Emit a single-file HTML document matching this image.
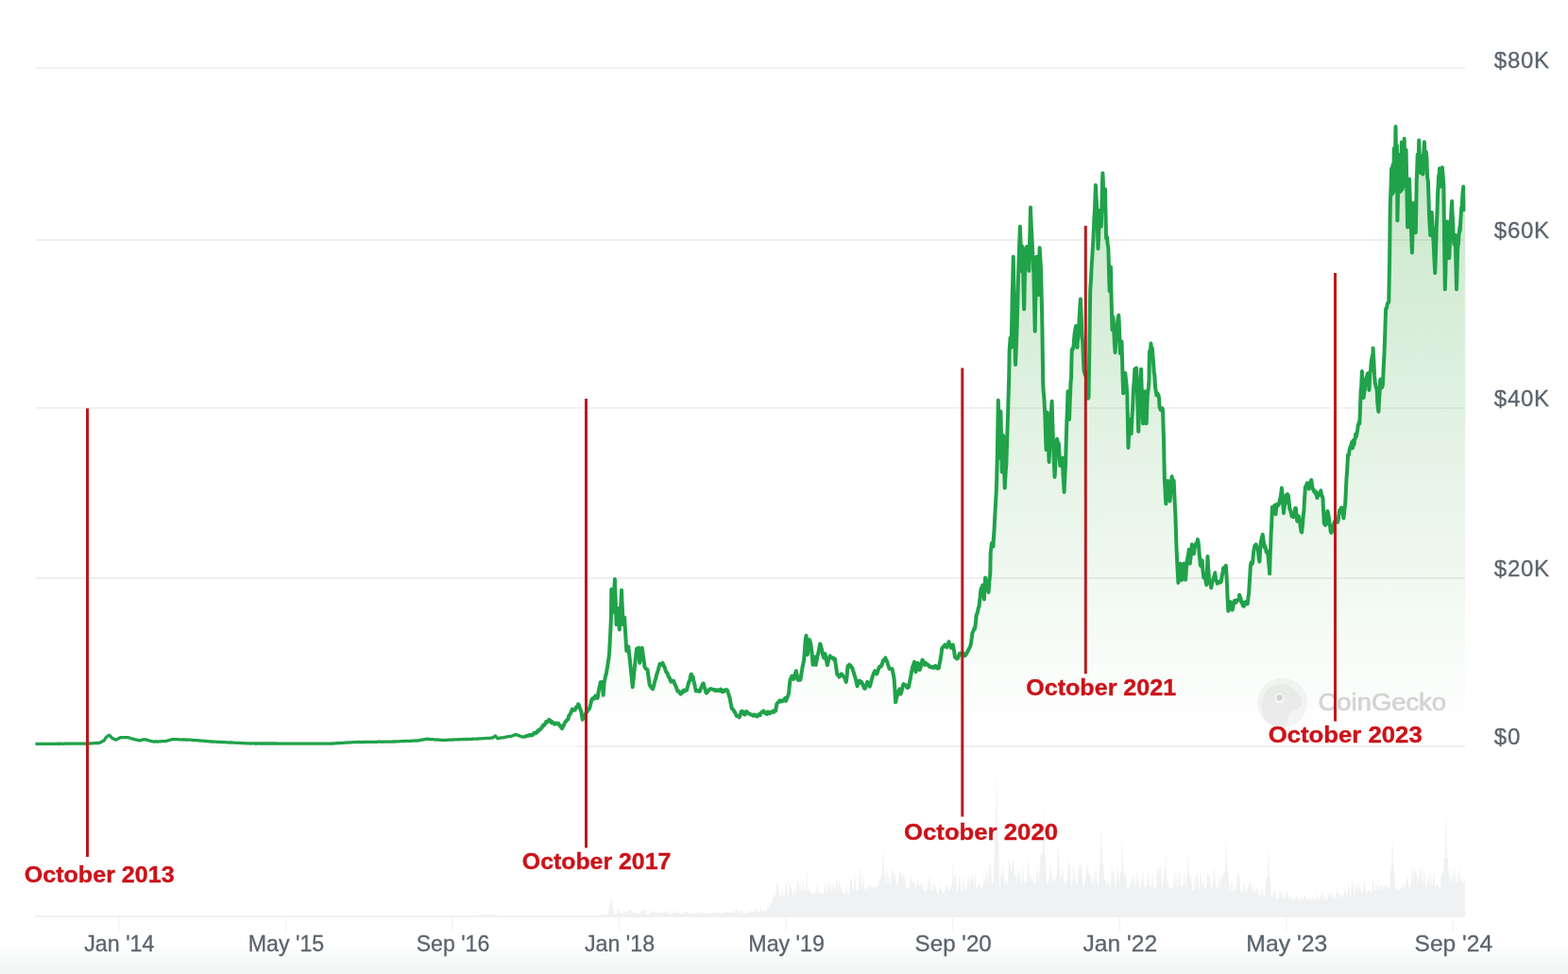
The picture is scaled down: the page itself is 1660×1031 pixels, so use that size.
<!DOCTYPE html>
<html lang="en">
<head>
<meta charset="utf-8">
<title>Bitcoin price chart</title>
<style>
html,body{margin:0;padding:0;background:#fff;}
body{width:1660px;height:1031px;overflow:hidden;position:relative;font-family:"Liberation Sans",Arial,Helvetica,sans-serif;}
svg{position:absolute;left:0;top:0;display:block;}
.grid line{stroke:#efefef;stroke-width:1.8;}
.ticks line{stroke:#f3f4f5;stroke-width:1.4;}
.axis text{font-family:"Liberation Sans",Arial,Helvetica,sans-serif;font-size:23.8px;fill:#5c646e;stroke:#5c646e;stroke-width:0.3px;}
.axis text.yl{font-size:24px;letter-spacing:0.75px;}
.red line{stroke:#b91a1e;stroke-width:3;}
.red text{font-family:"Liberation Sans",Arial,Helvetica,sans-serif;font-weight:700;font-size:23.5px;fill:#cb1219;stroke:#cb1219;stroke-width:0.35px;}
.wm text{font-family:"Liberation Sans",Arial,Helvetica,sans-serif;font-size:26.5px;fill:#d5d5d5;stroke:#d5d5d5;stroke-width:0.7px;}
</style>
</head>
<body>
<svg width="1660" height="1031" viewBox="0 0 1660 1031">
<defs>
<clipPath id="plot"><rect x="36" y="60" width="1515.4" height="740"/></clipPath>
<linearGradient id="gfill" x1="0" y1="72" x2="0" y2="778" gradientUnits="userSpaceOnUse">
<stop offset="0" stop-color="#30a234" stop-opacity="0.30"/>
<stop offset="1" stop-color="#30a234" stop-opacity="0"/>
</linearGradient>
<linearGradient id="gbot" x1="0" y1="1000" x2="0" y2="1031" gradientUnits="userSpaceOnUse">
<stop offset="0" stop-color="#ffffff"/>
<stop offset="0.3" stop-color="#f9fafa"/>
<stop offset="1" stop-color="#f3f4f4"/>
</linearGradient>
</defs>
<rect x="0" y="0" width="1660" height="1031" fill="#ffffff"/>
<rect x="0" y="1000" width="1660" height="31" fill="url(#gbot)"/>
<g class="grid"><line x1="38" x2="1551" y1="71.8" y2="71.8"/><line x1="38" x2="1551" y1="254" y2="254"/><line x1="38" x2="1551" y1="431.8" y2="431.8"/><line x1="38" x2="1551" y1="612" y2="612"/><line x1="38" x2="610" y1="790" y2="790" style="stroke:#f7f7f7"/><line x1="610" x2="1551" y1="790" y2="790"/><line x1="37" x2="1551" y1="970" y2="970" style="stroke:#f0f0f1"/></g>
<g class="ticks"><line x1="125.9" x2="125.9" y1="970" y2="986"/><line x1="302.5" x2="302.5" y1="970" y2="986"/><line x1="479.0" x2="479.0" y1="970" y2="986"/><line x1="655.6" x2="655.6" y1="970" y2="986"/><line x1="832.1" x2="832.1" y1="970" y2="986"/><line x1="1008.7" x2="1008.7" y1="970" y2="986"/><line x1="1185.3" x2="1185.3" y1="970" y2="986"/><line x1="1361.8" x2="1361.8" y1="970" y2="986"/><line x1="1538.4" x2="1538.4" y1="970" y2="986"/></g>
<path d="M495,970 L495,970.0 L496,969.8 L497,969.1 L498,969.4 L499,968.6 L500,968.7 L501,969.0 L502,968.3 L503,969.0 L504,968.5 L505,969.0 L506,969.0 L507,968.5 L508,966.9 L509,969.0 L510,968.9 L511,967.9 L512,966.2 L513,968.0 L514,968.6 L515,966.0 L516,969.0 L517,966.7 L518,968.8 L519,969.0 L520,969.0 L521,968.8 L522,967.0 L523,968.9 L524,968.0 L525,967.8 L526,968.6 L527,968.1 L528,969.0 L529,969.2 L530,969.5 L531,969.4 L532,970.0 L533,970.0 L534,970.0 L535,970.0 L536,970.0 L537,970.0 L538,970.0 L539,970.0 L540,970.0 L541,970.0 L542,970.0 L543,970.0 L544,970.0 L545,970.0 L546,970.0 L547,970.0 L548,970.0 L549,970.0 L550,970.0 L551,970.0 L552,970.0 L553,970.0 L554,970.0 L555,970.0 L556,970.0 L557,970.0 L558,970.0 L559,970.0 L560,970.0 L561,970.0 L562,970.0 L563,970.0 L564,970.0 L565,970.0 L566,970.0 L567,970.0 L568,970.0 L569,970.0 L570,970.0 L571,970.0 L572,970.0 L573,970.0 L574,970.0 L575,970.0 L576,970.0 L577,970.0 L578,970.0 L579,970.0 L580,970.0 L581,970.0 L582,970.0 L583,970.0 L584,970.0 L585,970.0 L586,970.0 L587,970.0 L588,970.0 L589,970.0 L590,970.0 L591,970.0 L592,970.0 L593,970.0 L594,970.0 L595,970.0 L596,970.0 L597,970.0 L598,970.0 L599,970.0 L600,970.0 L601,970.0 L602,970.0 L603,970.0 L604,970.0 L605,970.0 L606,970.0 L607,970.0 L608,970.0 L609,970.0 L610,970.0 L611,970.0 L612,970.0 L613,970.0 L614,970.0 L615,970.0 L616,970.0 L617,970.0 L618,970.0 L619,970.0 L620,970.0 L621,970.0 L622,970.0 L623,970.0 L624,970.0 L625,970.0 L626,970.0 L627,970.0 L628,970.0 L629,970.0 L630,970.0 L631,970.0 L632,970.0 L633,970.0 L634,970.0 L635,970.0 L636,970.0 L637,968.7 L638,966.7 L639,968.1 L640,967.4 L641,968.0 L642,967.9 L643,967.4 L644,967.6 L645,957.9 L646,957.9 L647,948.0 L648,957.9 L649,957.9 L650,967.7 L651,966.2 L652,967.7 L653,966.3 L654,962.2 L655,963.6 L656,965.1 L657,967.3 L658,967.0 L659,967.4 L660,964.5 L661,966.2 L662,964.4 L663,967.0 L664,967.2 L665,964.2 L666,962.5 L667,963.8 L668,964.2 L669,964.2 L670,964.8 L671,967.1 L672,966.1 L673,966.8 L674,967.3 L675,967.3 L676,967.0 L677,967.1 L678,965.2 L679,963.1 L680,966.5 L681,963.3 L682,962.9 L683,963.2 L684,966.9 L685,967.2 L686,967.2 L687,967.3 L688,967.2 L689,965.8 L690,963.8 L691,964.4 L692,966.5 L693,965.7 L694,964.7 L695,967.4 L696,965.7 L697,963.9 L698,964.9 L699,965.2 L700,966.6 L701,967.4 L702,964.9 L703,967.1 L704,964.9 L705,963.5 L706,967.0 L707,967.0 L708,963.8 L709,965.5 L710,967.5 L711,967.5 L712,967.5 L713,964.3 L714,965.0 L715,967.5 L716,964.9 L717,963.7 L718,966.0 L719,967.2 L720,966.6 L721,967.6 L722,967.6 L723,963.8 L724,966.0 L725,966.6 L726,964.1 L727,966.9 L728,964.5 L729,964.8 L730,967.4 L731,967.3 L732,967.2 L733,967.3 L734,966.2 L735,967.2 L736,966.8 L737,967.4 L738,964.0 L739,967.0 L740,966.7 L741,966.1 L742,964.0 L743,966.7 L744,963.9 L745,966.4 L746,966.3 L747,966.3 L748,967.3 L749,966.6 L750,967.2 L751,967.3 L752,964.6 L753,967.2 L754,966.4 L755,965.1 L756,966.0 L757,966.8 L758,966.2 L759,966.0 L760,964.6 L761,967.1 L762,965.9 L763,966.9 L764,966.9 L765,964.6 L766,966.1 L767,965.9 L768,964.7 L769,963.4 L770,966.3 L771,965.5 L772,966.0 L773,966.0 L774,965.0 L775,966.2 L776,965.9 L777,966.1 L778,963.0 L779,964.9 L780,963.5 L781,962.9 L782,966.7 L783,965.6 L784,962.8 L785,963.7 L786,966.8 L787,966.8 L788,966.1 L789,966.9 L790,966.7 L791,966.8 L792,964.9 L793,964.1 L794,963.1 L795,966.7 L796,964.5 L797,964.9 L798,966.7 L799,963.1 L800,962.3 L801,966.4 L802,961.5 L803,965.4 L804,964.7 L805,959.7 L806,961.2 L807,965.2 L808,964.0 L809,963.2 L810,964.0 L811,964.2 L812,963.6 L813,958.0 L814,960.9 L815,956.0 L816,955.4 L817,956.0 L818,952.9 L819,946.4 L820,946.6 L821,950.8 L822,931.9 L823,939.0 L824,932.0 L825,950.1 L826,949.0 L827,949.9 L828,938.2 L829,948.5 L830,949.3 L831,946.3 L832,932.5 L833,935.8 L834,947.8 L835,948.4 L836,931.2 L837,942.3 L838,938.7 L839,948.0 L840,948.0 L841,938.4 L842,944.4 L843,947.5 L844,928.5 L845,939.2 L846,933.6 L847,946.9 L848,931.0 L849,946.6 L850,930.3 L851,942.6 L852,942.5 L853,940.4 L854,920.0 L855,942.5 L856,942.5 L857,941.0 L858,945.5 L859,946.3 L860,946.1 L861,946.5 L862,945.8 L863,944.8 L864,944.9 L865,934.3 L866,945.0 L867,941.6 L868,946.0 L869,944.3 L870,946.5 L871,945.4 L872,946.5 L873,935.2 L874,940.5 L875,945.9 L876,942.1 L877,927.2 L878,946.3 L879,932.1 L880,943.0 L881,941.7 L882,931.5 L883,943.6 L884,941.5 L885,936.7 L886,925.0 L887,944.4 L888,931.5 L889,936.1 L890,938.2 L891,943.4 L892,944.3 L893,946.5 L894,946.2 L895,946.4 L896,934.9 L897,945.4 L898,946.1 L899,946.4 L900,931.2 L901,929.6 L902,936.6 L903,942.5 L904,942.5 L905,920.0 L906,940.8 L907,942.5 L908,940.6 L909,943.1 L910,921.6 L911,920.7 L912,937.1 L913,942.3 L914,919.7 L915,941.1 L916,940.1 L917,942.5 L918,939.1 L919,936.9 L920,936.0 L921,940.8 L922,935.3 L923,941.1 L924,939.4 L925,940.5 L926,936.7 L927,940.2 L928,940.0 L929,937.6 L930,938.3 L931,930.7 L932,932.6 L933,924.5 L934,928.4 L935,898.0 L936,918.6 L937,930.4 L938,937.5 L939,913.0 L940,939.6 L941,926.5 L942,929.7 L943,940.1 L944,921.8 L945,919.1 L946,930.6 L947,926.7 L948,923.4 L949,940.1 L950,934.1 L951,934.7 L952,922.8 L953,924.3 L954,923.4 L955,932.7 L956,920.5 L957,929.7 L958,929.4 L959,939.9 L960,941.0 L961,940.9 L962,938.7 L963,941.3 L964,925.0 L965,935.0 L966,933.3 L967,933.6 L968,932.1 L969,937.6 L970,942.7 L971,928.7 L972,930.8 L973,938.1 L974,937.6 L975,934.5 L976,943.6 L977,932.6 L978,942.9 L979,944.1 L980,943.2 L981,934.0 L982,944.0 L983,934.2 L984,925.6 L985,940.9 L986,942.9 L987,941.6 L988,937.2 L989,935.0 L990,939.4 L991,938.6 L992,945.8 L993,945.6 L994,944.8 L995,935.5 L996,944.3 L997,939.9 L998,945.6 L999,945.5 L1000,944.4 L1001,937.0 L1002,936.3 L1003,936.7 L1004,943.9 L1005,940.4 L1006,941.3 L1007,935.9 L1008,935.9 L1009,908.0 L1010,935.9 L1011,924.5 L1012,926.3 L1013,944.8 L1014,940.9 L1015,930.6 L1016,924.2 L1017,940.8 L1018,943.4 L1019,943.8 L1020,924.7 L1021,943.5 L1022,937.1 L1023,943.5 L1024,937.9 L1025,921.8 L1026,942.9 L1027,927.1 L1028,937.1 L1029,923.1 L1030,930.5 L1031,941.1 L1032,921.2 L1033,936.2 L1034,941.5 L1035,941.2 L1036,935.3 L1037,936.0 L1038,938.6 L1039,940.0 L1040,937.4 L1041,937.6 L1042,919.7 L1043,939.5 L1044,923.3 L1045,918.4 L1046,938.6 L1047,912.4 L1048,923.5 L1049,913.0 L1050,935.9 L1051,934.3 L1052,933.8 L1053,880.9 L1054,880.9 L1055,808.0 L1056,880.9 L1057,880.9 L1058,937.6 L1059,937.4 L1060,916.1 L1061,935.5 L1062,909.9 L1063,936.0 L1064,935.7 L1065,930.1 L1066,936.5 L1067,933.7 L1068,908.3 L1069,912.8 L1070,917.0 L1071,925.5 L1072,910.9 L1073,909.1 L1074,928.5 L1075,921.5 L1076,936.9 L1077,920.8 L1078,931.3 L1079,919.7 L1080,924.6 L1081,934.7 L1082,936.7 L1083,909.6 L1084,936.3 L1085,930.5 L1086,933.5 L1087,934.3 L1088,920.0 L1089,906.1 L1090,934.7 L1091,923.7 L1092,934.0 L1093,927.4 L1094,932.1 L1095,935.6 L1096,935.6 L1097,935.1 L1098,910.3 L1099,929.2 L1100,934.9 L1101,910.3 L1102,904.4 L1103,904.0 L1104,904.0 L1105,850.0 L1106,904.0 L1107,904.0 L1108,936.1 L1109,934.9 L1110,934.7 L1111,927.3 L1112,912.4 L1113,919.9 L1114,932.0 L1115,932.0 L1116,929.0 L1117,932.9 L1118,927.1 L1119,927.1 L1120,892.0 L1121,908.1 L1122,927.1 L1123,929.9 L1124,925.7 L1125,914.8 L1126,935.7 L1127,935.1 L1128,935.4 L1129,932.9 L1130,931.8 L1131,909.9 L1132,916.1 L1133,914.8 L1134,937.0 L1135,937.0 L1136,923.1 L1137,913.9 L1138,931.4 L1139,928.0 L1140,937.2 L1141,933.5 L1142,912.5 L1143,918.1 L1144,916.6 L1145,910.0 L1146,936.0 L1147,937.2 L1148,937.0 L1149,930.6 L1150,925.1 L1151,912.4 L1152,923.6 L1153,926.7 L1154,922.0 L1155,932.8 L1156,930.2 L1157,938.0 L1158,921.6 L1159,937.0 L1160,914.8 L1161,927.5 L1162,936.3 L1163,938.1 L1164,913.9 L1165,913.9 L1166,868.0 L1167,913.9 L1168,913.9 L1169,932.2 L1170,930.5 L1171,935.5 L1172,938.0 L1173,930.2 L1174,939.2 L1175,937.3 L1176,934.4 L1177,914.7 L1178,929.2 L1179,919.0 L1180,934.4 L1181,938.6 L1182,938.5 L1183,915.4 L1184,927.6 L1185,938.0 L1186,922.7 L1187,922.7 L1188,884.0 L1189,922.7 L1190,922.7 L1191,929.6 L1192,918.4 L1193,939.5 L1194,940.6 L1195,938.3 L1196,936.9 L1197,929.7 L1198,940.1 L1199,925.3 L1200,927.8 L1201,935.3 L1202,940.2 L1203,917.1 L1204,939.0 L1205,924.5 L1206,940.0 L1207,940.1 L1208,927.0 L1209,939.3 L1210,918.0 L1211,935.5 L1212,940.4 L1213,940.1 L1214,937.3 L1215,930.6 L1216,918.2 L1217,940.6 L1218,937.7 L1219,940.1 L1220,916.8 L1221,940.7 L1222,941.0 L1223,940.9 L1224,937.7 L1225,920.8 L1226,921.5 L1227,928.1 L1228,915.5 L1229,919.1 L1230,938.8 L1231,940.4 L1232,918.9 L1233,927.6 L1234,900.0 L1235,930.6 L1236,931.5 L1237,938.1 L1238,938.7 L1239,940.5 L1240,941.0 L1241,939.4 L1242,938.4 L1243,917.8 L1244,940.7 L1245,917.4 L1246,940.2 L1247,938.4 L1248,924.4 L1249,924.4 L1250,937.0 L1251,941.0 L1252,936.1 L1253,938.2 L1254,919.9 L1255,940.5 L1256,932.6 L1257,921.1 L1258,902.0 L1259,932.6 L1260,925.2 L1261,927.2 L1262,941.5 L1263,941.5 L1264,941.5 L1265,920.3 L1266,940.4 L1267,928.2 L1268,921.5 L1269,939.4 L1270,940.3 L1271,918.6 L1272,933.0 L1273,940.6 L1274,929.7 L1275,940.0 L1276,940.5 L1277,942.1 L1278,928.3 L1279,921.0 L1280,932.8 L1281,919.7 L1282,942.3 L1283,941.3 L1284,937.4 L1285,919.2 L1286,919.4 L1287,939.3 L1288,941.3 L1289,938.6 L1290,937.2 L1291,920.9 L1292,942.1 L1293,926.9 L1294,929.6 L1295,926.1 L1296,922.7 L1297,922.7 L1298,884.0 L1299,922.7 L1300,922.7 L1301,928.3 L1302,943.2 L1303,942.7 L1304,930.3 L1305,942.5 L1306,943.7 L1307,943.9 L1308,937.6 L1309,942.2 L1310,921.9 L1311,926.8 L1312,922.2 L1313,943.5 L1314,944.8 L1315,944.9 L1316,940.3 L1317,934.9 L1318,941.7 L1319,944.6 L1320,942.6 L1321,938.4 L1322,937.2 L1323,935.1 L1324,932.0 L1325,938.1 L1326,946.3 L1327,933.0 L1328,945.4 L1329,941.3 L1330,944.8 L1331,937.7 L1332,947.1 L1333,947.2 L1334,947.5 L1335,948.4 L1336,936.3 L1337,944.5 L1338,948.3 L1339,948.0 L1340,935.6 L1341,929.3 L1342,929.3 L1343,896.0 L1344,929.3 L1345,929.3 L1346,951.9 L1347,949.6 L1348,943.9 L1349,943.5 L1350,941.8 L1351,952.2 L1352,951.4 L1353,952.1 L1354,952.0 L1355,940.5 L1356,948.5 L1357,941.8 L1358,951.0 L1359,943.4 L1360,950.4 L1361,951.9 L1362,945.5 L1363,941.7 L1364,952.5 L1365,948.7 L1366,948.4 L1367,952.3 L1368,951.4 L1369,952.6 L1370,952.4 L1371,952.2 L1372,949.0 L1373,948.2 L1374,952.6 L1375,953.0 L1376,952.0 L1377,948.0 L1378,952.8 L1379,952.2 L1380,952.8 L1381,946.0 L1382,950.1 L1383,953.2 L1384,953.2 L1385,951.8 L1386,950.2 L1387,949.0 L1388,953.3 L1389,953.2 L1390,948.3 L1391,951.9 L1392,952.8 L1393,952.7 L1394,943.3 L1395,952.7 L1396,950.4 L1397,952.5 L1398,952.0 L1399,945.6 L1400,942.6 L1401,952.4 L1402,953.1 L1403,947.3 L1404,952.7 L1405,952.9 L1406,942.7 L1407,950.7 L1408,944.0 L1409,950.4 L1410,941.8 L1411,949.4 L1412,951.5 L1413,951.6 L1414,947.5 L1415,945.8 L1416,938.9 L1417,950.9 L1418,945.4 L1419,948.9 L1420,946.9 L1421,950.1 L1422,949.2 L1423,946.1 L1424,935.9 L1425,949.6 L1426,946.1 L1427,938.8 L1428,933.3 L1429,948.7 L1430,948.8 L1431,933.2 L1432,931.7 L1433,944.9 L1434,948.4 L1435,932.7 L1436,945.8 L1437,932.9 L1438,941.2 L1439,935.2 L1440,947.2 L1441,936.0 L1442,946.5 L1443,944.4 L1444,933.2 L1445,933.5 L1446,946.1 L1447,945.7 L1448,943.6 L1449,941.3 L1450,943.5 L1451,945.6 L1452,944.7 L1453,935.1 L1454,928.5 L1455,945.2 L1456,939.0 L1457,933.1 L1458,944.8 L1459,929.6 L1460,944.3 L1461,937.1 L1462,938.3 L1463,936.1 L1464,942.5 L1465,940.7 L1466,937.0 L1467,940.4 L1468,934.6 L1469,939.8 L1470,939.8 L1471,943.5 L1472,921.0 L1473,921.0 L1474,881.0 L1475,921.0 L1476,921.0 L1477,938.7 L1478,942.4 L1479,938.2 L1480,942.6 L1481,942.4 L1482,938.8 L1483,942.4 L1484,938.4 L1485,936.8 L1486,942.2 L1487,933.0 L1488,941.9 L1489,929.5 L1490,927.6 L1491,936.1 L1492,941.7 L1493,935.9 L1494,935.9 L1495,908.0 L1496,935.9 L1497,923.2 L1498,916.0 L1499,928.2 L1500,924.7 L1501,940.2 L1502,916.4 L1503,935.5 L1504,917.7 L1505,919.8 L1506,940.1 L1507,925.6 L1508,919.0 L1509,940.3 L1510,937.8 L1511,926.8 L1512,939.7 L1513,920.6 L1514,938.6 L1515,924.2 L1516,939.6 L1517,934.4 L1518,919.4 L1519,938.9 L1520,938.3 L1521,934.1 L1522,937.5 L1523,939.4 L1524,938.8 L1525,938.9 L1526,918.5 L1527,928.9 L1528,920.4 L1529,907.9 L1530,907.9 L1531,857.0 L1532,907.9 L1533,907.9 L1534,936.2 L1535,921.2 L1536,932.1 L1537,931.4 L1538,920.8 L1539,938.2 L1540,915.5 L1541,929.9 L1542,935.2 L1543,924.1 L1544,936.8 L1545,915.6 L1546,931.1 L1547,935.4 L1548,925.2 L1549,933.9 L1550,937.1 L1551,925.8 L1551,970 Z" fill="#eff1f3"/>
<g class="wm">
<circle cx="1357.7" cy="743.9" r="26.3" fill="#f5f5f5"/>
<path d="M1335.8,753 C1335.5,743 1337.5,735 1342,730 C1346.5,725.5 1352,723.8 1358,724 C1362,724.2 1365,725.5 1367.5,727.4 C1372.5,731 1376.5,736 1378.6,741 C1379.5,744 1378.5,747 1376.3,748.4 C1373.5,750.3 1370.5,751.5 1367.5,752.5 C1365,755 1363.5,760 1363.4,766.1 C1361,769 1355.5,770.6 1350.5,769.6 C1345,768 1339.5,763.5 1337,759.3 C1336.2,757.2 1335.9,755.2 1335.8,753 Z" fill="#ececec"/>
<circle cx="1354.8" cy="739" r="5.2" fill="#f8f8f8"/>
<circle cx="1354.6" cy="738.6" r="3.1" fill="#d3d3d3"/>
<text x="1395.6" y="752" textLength="135.4" lengthAdjust="spacingAndGlyphs">CoinGecko</text>
</g>
<path d="M37.50,787.4 L38.30,787.4 L39.10,787.4 L39.90,787.4 L40.70,787.4 L41.50,787.4 L42.30,787.4 L43.10,787.4 L43.90,787.3 L44.70,787.3 L45.50,787.4 L46.30,787.4 L47.10,787.4 L47.90,787.4 L48.70,787.3 L49.50,787.3 L50.30,787.4 L51.10,787.3 L51.90,787.3 L52.70,787.3 L53.50,787.3 L54.30,787.3 L55.10,787.3 L55.90,787.3 L56.70,787.3 L57.50,787.3 L58.30,787.3 L59.10,787.3 L59.90,787.2 L60.70,787.3 L61.50,787.2 L62.30,787.3 L63.10,787.2 L63.90,787.3 L64.70,787.2 L65.50,787.2 L66.30,787.3 L67.10,787.3 L67.90,787.3 L68.70,787.2 L69.50,787.2 L70.30,787.2 L71.10,787.2 L71.90,787.2 L72.70,787.2 L73.50,787.2 L74.30,787.2 L75.10,787.2 L75.90,787.2 L76.70,787.2 L77.50,787.2 L78.30,787.2 L79.10,787.2 L79.90,787.2 L80.70,787.2 L81.50,787.2 L82.30,787.2 L83.10,787.2 L83.90,787.2 L84.70,787.1 L85.50,787.2 L86.30,787.1 L87.10,787.2 L87.90,787.1 L88.70,787.1 L89.50,787.1 L90.30,787.1 L91.10,787.1 L91.90,787.1 L92.60,787.1 L92.70,787.1 L93.50,787.0 L94.30,787.0 L95.10,787.0 L95.90,786.9 L96.70,786.9 L97.50,786.8 L98.30,786.8 L99.10,786.7 L99.90,786.7 L100.70,786.7 L101.50,786.6 L102.30,786.5 L103.10,786.6 L103.90,786.5 L104.70,786.5 L105.10,786.4 L105.50,786.2 L106.30,785.9 L107.10,785.5 L107.90,785.0 L108.70,784.6 L109.50,784.2 L110.10,783.9 L110.30,783.6 L111.10,782.4 L111.90,781.2 L112.60,780.1 L112.70,780.1 L113.50,779.6 L114.30,778.9 L115.10,778.5 L115.60,778.1 L115.90,778.4 L116.70,779.1 L117.50,779.9 L118.30,780.8 L118.90,781.4 L119.10,781.6 L119.90,781.8 L120.70,782.2 L121.50,782.6 L122.30,782.9 L122.70,783.1 L123.10,782.9 L123.90,782.6 L124.70,782.2 L125.50,781.7 L126.30,781.3 L127.10,780.9 L127.70,780.6 L127.90,780.7 L128.70,780.6 L129.50,780.7 L130.30,780.6 L131.10,780.7 L131.90,780.6 L132.70,780.6 L133.50,780.6 L134.30,780.7 L135.10,780.7 L135.20,780.6 L135.90,780.7 L136.70,781.0 L137.50,781.2 L138.30,781.5 L139.10,781.8 L139.90,782.0 L140.20,782.1 L140.70,782.2 L141.50,782.4 L142.30,782.6 L143.10,782.8 L143.90,783.0 L144.70,783.2 L145.50,783.4 L146.30,783.5 L147.10,783.8 L147.70,783.9 L147.90,783.9 L148.70,783.6 L149.50,783.4 L150.30,783.2 L151.10,783.0 L151.90,782.9 L152.70,782.6 L153.50,782.8 L154.30,782.9 L155.10,783.2 L155.90,783.4 L156.70,783.5 L157.50,783.8 L158.30,783.9 L159.10,784.3 L159.90,784.5 L160.70,784.6 L161.50,784.8 L162.30,784.9 L162.70,785.1 L163.10,785.0 L163.90,785.1 L164.70,784.9 L165.50,784.9 L166.30,785.0 L167.10,785.0 L167.90,784.9 L168.70,784.8 L169.50,784.8 L170.30,784.8 L171.10,784.7 L171.90,784.7 L172.70,784.7 L173.50,784.6 L174.30,784.6 L175.10,784.6 L175.20,784.6 L175.90,784.5 L176.70,784.2 L177.50,784.0 L178.30,783.7 L179.10,783.5 L179.90,783.3 L180.70,783.0 L181.50,782.9 L182.30,782.8 L182.70,782.6 L183.10,782.7 L183.90,782.7 L184.70,782.6 L185.50,782.7 L186.30,782.7 L187.10,782.7 L187.90,782.6 L188.70,782.7 L189.50,782.8 L190.30,782.8 L191.10,782.8 L191.90,782.9 L192.70,782.9 L193.50,782.9 L194.30,783.0 L195.10,782.9 L195.90,782.9 L196.70,783.0 L197.50,783.0 L198.30,783.1 L199.10,783.1 L199.90,783.1 L200.30,783.1 L200.70,783.0 L201.50,783.2 L202.30,783.2 L203.10,783.3 L203.90,783.4 L204.70,783.5 L205.50,783.6 L206.30,783.6 L207.10,783.6 L207.90,783.7 L208.70,783.7 L209.50,783.8 L210.30,783.9 L211.10,783.9 L211.90,784.0 L212.70,784.1 L213.50,784.2 L214.30,784.2 L215.10,784.2 L215.90,784.3 L216.70,784.5 L217.50,784.5 L218.30,784.5 L219.10,784.6 L219.90,784.7 L220.70,784.7 L221.50,784.8 L222.30,784.8 L223.10,784.9 L223.90,785.0 L224.70,785.1 L225.30,785.1 L225.50,785.1 L226.30,785.1 L227.10,785.2 L227.90,785.2 L228.70,785.2 L229.50,785.3 L230.30,785.3 L231.10,785.4 L231.90,785.4 L232.70,785.4 L233.50,785.5 L234.30,785.6 L235.10,785.5 L235.90,785.6 L236.70,785.6 L237.50,785.7 L238.30,785.7 L239.10,785.8 L239.90,785.8 L240.70,785.8 L241.50,785.9 L242.30,785.9 L243.10,786.0 L243.90,786.0 L244.70,786.0 L245.50,786.0 L246.30,786.1 L247.10,786.1 L247.90,786.2 L248.70,786.2 L249.50,786.3 L250.30,786.3 L251.10,786.3 L251.90,786.4 L252.70,786.4 L253.50,786.4 L254.30,786.4 L255.10,786.5 L255.90,786.6 L256.70,786.6 L257.50,786.6 L258.30,786.7 L259.10,786.7 L259.90,786.8 L260.70,786.8 L261.50,786.8 L262.30,786.8 L262.80,786.9 L263.10,786.9 L263.90,786.9 L264.70,787.0 L265.50,787.0 L266.30,786.9 L267.10,786.9 L267.90,786.9 L268.70,786.9 L269.50,787.0 L270.30,787.0 L271.10,786.9 L271.90,787.0 L272.70,787.0 L273.50,786.9 L274.30,786.9 L275.10,787.0 L275.90,787.0 L276.70,787.0 L277.50,787.0 L278.30,787.0 L279.10,787.0 L279.90,787.0 L280.70,787.0 L281.50,787.0 L282.30,787.0 L283.10,787.0 L283.90,787.0 L284.70,787.0 L285.50,787.0 L286.30,787.0 L287.10,787.0 L287.90,787.0 L288.70,787.0 L289.50,787.0 L290.30,787.1 L291.10,787.0 L291.90,787.1 L292.70,787.0 L293.50,787.0 L294.30,787.1 L295.10,787.1 L295.90,787.1 L296.70,787.1 L297.50,787.1 L298.30,787.1 L299.10,787.1 L299.90,787.1 L300.40,787.1 L300.70,787.1 L301.50,787.1 L302.30,787.1 L303.10,787.1 L303.90,787.1 L304.70,787.1 L305.50,787.1 L306.30,787.1 L307.10,787.1 L307.90,787.1 L308.70,787.1 L309.50,787.1 L310.30,787.1 L311.10,787.1 L311.90,787.1 L312.70,787.1 L313.50,787.1 L314.30,787.1 L315.10,787.1 L315.90,787.1 L316.70,787.1 L317.50,787.1 L318.30,787.1 L319.10,787.1 L319.90,787.1 L320.70,787.1 L321.50,787.1 L322.30,787.1 L323.10,787.1 L323.90,787.1 L324.70,787.1 L325.50,787.1 L326.30,787.1 L327.10,787.1 L327.90,787.1 L328.70,787.1 L329.50,787.1 L330.30,787.1 L331.10,787.1 L331.90,787.1 L332.70,787.1 L333.50,787.1 L334.30,787.1 L335.10,787.1 L335.90,787.1 L336.70,787.1 L337.50,787.1 L338.30,787.1 L339.10,787.1 L339.90,787.1 L340.70,787.1 L341.50,787.1 L342.30,787.1 L343.10,787.1 L343.90,787.1 L344.70,787.1 L345.50,787.1 L346.30,787.1 L347.10,787.1 L347.90,787.1 L348.70,787.1 L349.50,787.1 L350.30,787.1 L350.40,787.1 L351.10,787.1 L351.90,787.0 L352.70,787.0 L353.50,786.9 L354.30,786.9 L355.10,786.8 L355.90,786.8 L356.70,786.7 L357.50,786.7 L358.30,786.6 L359.10,786.6 L359.90,786.5 L360.70,786.5 L361.50,786.4 L362.30,786.4 L363.10,786.4 L363.90,786.3 L364.70,786.2 L365.50,786.1 L366.30,786.2 L367.10,786.1 L367.90,786.0 L368.70,786.0 L369.50,785.9 L370.30,785.9 L371.10,785.9 L371.90,785.8 L372.70,785.8 L373.50,785.7 L374.30,785.6 L375.10,785.6 L375.50,785.6 L375.90,785.6 L376.70,785.6 L377.50,785.6 L378.30,785.6 L379.10,785.5 L379.90,785.5 L380.70,785.5 L381.50,785.6 L382.30,785.6 L383.10,785.5 L383.90,785.5 L384.70,785.5 L385.50,785.5 L386.30,785.4 L387.10,785.4 L387.90,785.4 L388.70,785.4 L389.50,785.4 L390.30,785.3 L391.10,785.4 L391.90,785.4 L392.70,785.4 L393.50,785.3 L394.30,785.4 L395.10,785.4 L395.90,785.3 L396.70,785.3 L397.50,785.4 L398.30,785.3 L399.10,785.3 L399.90,785.2 L400.70,785.2 L401.50,785.2 L402.30,785.2 L403.10,785.2 L403.90,785.3 L404.70,785.2 L405.50,785.2 L406.30,785.3 L407.10,785.2 L407.90,785.1 L408.70,785.2 L409.50,785.1 L410.30,785.2 L411.10,785.1 L411.90,785.1 L412.70,785.1 L413.50,785.1 L414.30,785.1 L415.00,785.1 L415.10,785.1 L415.90,785.0 L416.70,785.1 L417.50,785.0 L418.30,785.0 L419.10,784.9 L419.90,784.8 L420.70,784.9 L421.50,784.9 L422.30,784.8 L423.10,784.7 L423.90,784.7 L424.70,784.6 L425.50,784.6 L426.30,784.6 L427.10,784.6 L427.90,784.5 L428.70,784.5 L429.50,784.4 L430.30,784.4 L431.10,784.4 L431.90,784.3 L432.70,784.3 L433.50,784.3 L434.30,784.3 L435.10,784.3 L435.90,784.2 L436.70,784.1 L437.50,784.1 L438.30,784.1 L439.10,784.1 L439.90,784.0 L440.70,784.0 L441.50,784.0 L442.30,783.9 L442.50,783.9 L443.10,783.8 L443.90,783.6 L444.70,783.5 L445.50,783.3 L446.30,783.1 L447.10,783.1 L447.90,782.9 L448.70,782.8 L449.50,782.6 L450.30,782.5 L451.10,782.3 L451.90,782.1 L452.00,782.1 L452.70,782.3 L453.50,782.3 L454.30,782.4 L455.10,782.6 L455.90,782.6 L456.70,782.7 L457.50,782.7 L458.30,782.7 L459.10,782.8 L459.90,782.9 L460.70,782.9 L461.50,783.0 L462.30,783.0 L463.10,783.0 L463.90,783.1 L464.70,783.2 L465.50,783.1 L466.30,783.3 L467.10,783.3 L467.90,783.3 L468.70,783.4 L469.50,783.4 L470.10,783.4 L470.30,783.5 L471.10,783.3 L471.90,783.3 L472.70,783.3 L473.50,783.3 L474.30,783.1 L475.10,783.2 L475.90,783.2 L476.70,783.1 L477.50,783.2 L478.30,783.1 L479.10,783.0 L479.90,783.0 L480.70,782.9 L481.50,782.9 L482.30,782.9 L483.10,782.9 L483.90,782.8 L484.70,782.8 L485.50,782.7 L486.30,782.8 L487.10,782.7 L487.90,782.7 L488.70,782.6 L489.50,782.6 L490.10,782.6 L490.30,782.5 L491.10,782.7 L491.90,782.6 L492.70,782.5 L493.50,782.5 L494.30,782.6 L495.10,782.5 L495.90,782.5 L496.70,782.3 L497.50,782.3 L498.30,782.4 L499.10,782.3 L499.90,782.2 L500.00,782.3 L500.70,782.2 L501.50,782.2 L502.30,782.1 L503.10,782.1 L503.90,782.2 L504.70,782.2 L505.50,782.0 L506.30,782.0 L507.10,781.9 L507.90,781.8 L508.70,781.9 L509.50,781.8 L510.30,781.7 L511.10,781.6 L511.90,781.6 L512.70,781.7 L513.50,781.6 L514.30,781.4 L515.10,781.4 L515.90,781.3 L516.70,781.4 L517.50,781.3 L518.30,781.3 L519.10,781.2 L519.90,781.1 L520.70,781.1 L521.30,781.1 L521.50,781.0 L522.30,780.3 L523.10,779.9 L523.90,779.3 L524.50,778.9 L524.70,779.2 L525.50,780.2 L526.30,781.1 L526.70,781.7 L527.10,781.5 L527.90,781.4 L528.70,781.4 L529.50,781.2 L530.30,780.9 L531.10,780.8 L531.90,780.8 L532.70,780.8 L533.50,780.6 L534.30,780.4 L535.10,780.3 L535.90,780.0 L536.70,779.9 L537.50,779.8 L538.30,779.6 L539.10,779.5 L539.90,779.4 L540.70,779.3 L541.50,779.2 L542.30,779.1 L542.70,778.9 L543.10,778.7 L543.90,778.2 L544.70,777.9 L545.50,777.6 L545.90,777.4 L546.30,777.6 L547.10,777.8 L547.90,778.2 L548.70,778.4 L549.50,778.6 L550.30,779.2 L551.10,779.3 L551.90,779.7 L552.70,779.9 L553.40,780.2 L553.50,780.1 L554.30,779.9 L555.10,779.8 L555.90,779.7 L556.70,779.3 L557.50,779.1 L558.30,779.0 L559.10,778.7 L559.90,778.5 L560.70,777.8 L561.50,778.3 L562.30,778.1 L563.10,778.4 L563.90,777.8 L564.00,777.4 L564.70,777.2 L565.50,775.8 L566.30,776.2 L567.10,776.3 L567.90,775.4 L568.70,774.1 L569.50,774.4 L570.30,773.5 L570.40,773.2 L571.10,772.2 L571.90,772.4 L572.70,770.9 L573.50,770.2 L574.30,769.1 L575.10,767.5 L575.80,767.8 L575.90,767.8 L576.70,766.9 L577.50,765.8 L578.30,763.8 L579.10,764.6 L579.90,763.7 L580.70,763.0 L581.10,761.9 L581.50,762.1 L582.30,762.5 L583.10,763.6 L583.90,765.1 L584.70,764.0 L585.40,765.3 L585.50,764.9 L586.30,765.7 L587.10,766.6 L587.90,765.9 L588.70,765.4 L589.50,766.1 L590.30,766.3 L591.10,765.7 L591.80,766.8 L591.90,766.7 L592.70,768.3 L593.50,768.4 L594.30,770.6 L595.00,771.0 L595.10,771.2 L595.90,768.3 L596.70,768.2 L597.50,765.9 L598.20,764.6 L598.30,764.2 L599.10,763.8 L599.90,762.4 L600.70,761.7 L601.40,761.4 L601.50,761.1 L602.30,757.4 L603.10,756.6 L603.90,755.4 L604.70,753.5 L605.50,751.9 L605.70,750.8 L606.30,752.2 L607.10,751.5 L607.90,751.1 L608.70,751.5 L608.90,750.8 L609.50,750.0 L610.30,748.1 L611.10,747.6 L611.90,746.1 L612.10,745.4 L612.70,746.0 L613.50,748.8 L614.30,750.6 L615.10,752.6 L615.30,752.9 L615.90,756.5 L616.70,761.8 L616.80,761.4 L617.50,759.8 L618.30,758.6 L619.10,757.4 L619.90,755.9 L620.60,754.0 L620.70,753.8 L621.50,753.4 L622.30,752.1 L623.10,750.1 L623.80,749.7 L623.90,750.5 L624.70,747.7 L625.50,744.5 L626.30,740.8 L627.00,740.1 L627.10,739.5 L627.90,739.1 L628.70,739.7 L629.50,738.3 L630.20,736.9 L630.30,736.5 L631.10,737.0 L631.90,738.3 L632.30,739.0 L632.70,738.6 L633.50,733.1 L634.30,728.7 L635.10,725.6 L635.50,723.0 L635.90,722.1 L636.70,723.0 L637.50,721.9 L637.70,721.9 L638.30,730.3 L638.70,735.8 L639.10,730.2 L639.80,720.9 L639.90,721.1 L640.70,717.3 L641.50,713.6 L641.90,713.4 L642.30,710.2 L643.10,705.7 L643.90,700.2 L644.70,694.9 L645.10,691.0 L645.50,683.3 L646.30,667.8 L646.90,654.7 L647.10,639.7 L647.30,623.8 L647.90,633.6 L648.70,646.2 L648.80,648.3 L649.50,636.5 L650.30,624.7 L650.90,613.1 L651.10,619.4 L651.90,640.7 L652.60,661.1 L652.70,659.0 L653.50,651.0 L654.10,644.0 L654.30,646.9 L655.10,656.7 L655.80,666.4 L655.90,664.0 L656.70,650.3 L657.50,636.2 L658.00,624.8 L658.30,632.1 L659.10,649.2 L659.70,661.1 L659.90,658.8 L660.70,656.1 L661.20,653.6 L661.50,659.6 L662.30,672.9 L663.10,686.2 L663.30,688.9 L663.90,687.8 L664.70,686.6 L665.40,684.6 L665.50,686.2 L666.30,693.7 L667.10,701.4 L667.90,709.0 L668.70,716.7 L669.50,724.9 L669.70,727.3 L670.30,722.1 L671.10,714.3 L671.90,706.2 L672.70,698.5 L673.50,690.9 L674.00,686.7 L674.30,687.1 L675.10,686.1 L675.90,686.4 L676.10,685.7 L676.70,694.9 L677.20,701.7 L677.50,700.2 L678.30,694.7 L679.10,688.9 L679.70,685.7 L679.90,687.0 L680.70,692.8 L681.50,698.1 L682.30,704.5 L682.50,705.9 L683.10,706.8 L683.90,708.0 L684.70,708.5 L685.50,709.0 L685.70,710.2 L686.30,715.0 L687.10,720.6 L687.80,725.1 L687.90,725.5 L688.70,726.6 L689.50,727.6 L690.30,728.7 L691.00,729.4 L691.10,729.2 L691.90,726.9 L692.70,723.5 L693.50,720.2 L694.20,718.7 L694.30,718.4 L695.10,714.3 L695.90,711.8 L696.70,709.6 L697.50,706.4 L698.30,703.5 L698.50,702.7 L699.10,703.0 L699.90,703.6 L700.70,702.4 L701.50,701.7 L701.70,702.1 L702.30,703.9 L703.10,705.6 L703.90,706.9 L704.70,709.8 L705.50,711.7 L706.00,712.3 L706.30,712.0 L707.10,714.3 L707.90,716.5 L708.70,717.2 L709.50,719.9 L710.20,720.9 L710.30,721.7 L711.10,720.6 L711.90,720.5 L712.70,721.3 L713.40,720.9 L713.50,722.0 L714.30,724.1 L715.10,725.5 L715.90,727.3 L716.60,729.4 L716.70,729.7 L717.50,731.8 L718.30,731.5 L719.10,732.2 L719.90,733.8 L720.70,734.7 L720.90,734.7 L721.50,733.4 L722.30,732.1 L723.10,732.8 L723.90,730.6 L724.10,730.5 L724.70,731.5 L725.50,731.3 L726.30,730.8 L727.10,730.6 L727.30,729.4 L727.90,727.0 L728.70,723.9 L729.50,721.3 L730.30,720.1 L731.10,715.1 L731.60,714.0 L731.90,713.7 L732.70,716.0 L733.50,717.2 L733.70,716.6 L734.30,720.5 L735.10,723.4 L735.90,727.6 L736.70,730.9 L736.90,731.5 L737.50,731.1 L738.30,731.1 L739.10,731.3 L739.90,730.9 L740.70,732.0 L741.20,730.5 L741.50,729.7 L742.30,727.8 L743.10,726.1 L743.90,724.1 L744.70,723.4 L745.50,726.6 L746.30,729.2 L747.10,731.8 L747.50,733.3 L747.90,733.6 L748.70,732.7 L749.50,732.0 L750.30,730.5 L751.10,729.8 L751.70,729.4 L751.90,729.3 L752.70,729.1 L753.50,729.4 L754.30,729.8 L755.10,729.9 L755.90,730.1 L756.70,730.1 L757.50,731.2 L758.30,730.6 L759.10,730.3 L759.90,731.0 L760.30,731.1 L760.70,730.4 L761.50,731.2 L762.30,730.5 L763.10,729.6 L763.90,731.5 L764.70,732.4 L765.50,731.2 L765.60,732.0 L766.30,731.9 L767.10,730.4 L767.90,730.5 L768.70,730.1 L769.50,730.4 L769.90,730.5 L770.30,732.0 L771.10,734.1 L771.90,736.8 L772.00,736.9 L772.70,739.1 L773.50,744.0 L774.30,747.4 L774.60,749.7 L775.10,749.8 L775.90,750.9 L776.70,751.9 L777.40,752.9 L777.50,753.6 L778.30,754.3 L779.10,756.3 L779.50,757.2 L779.90,757.9 L780.70,757.7 L781.50,758.4 L782.30,758.8 L782.70,759.3 L783.10,758.2 L783.90,755.9 L784.70,754.5 L784.80,752.9 L785.50,752.9 L786.30,753.3 L787.10,754.1 L787.90,756.3 L788.00,756.1 L788.70,756.4 L789.50,753.7 L790.30,753.1 L790.80,753.3 L791.10,754.2 L791.90,754.8 L792.70,755.4 L793.50,755.5 L794.30,756.0 L794.40,756.1 L795.10,756.7 L795.90,756.5 L796.70,756.8 L797.50,757.7 L798.30,756.6 L799.10,756.7 L799.90,757.6 L800.70,757.5 L800.80,757.6 L801.50,758.4 L802.30,757.3 L803.10,756.3 L803.90,756.7 L804.70,757.2 L805.10,755.5 L805.50,754.7 L806.30,754.4 L807.10,753.3 L807.90,754.0 L808.30,752.5 L808.70,752.9 L809.50,754.2 L810.30,754.5 L810.40,755.0 L811.10,754.8 L811.90,756.0 L812.70,753.5 L813.50,754.3 L814.30,754.9 L814.70,754.0 L815.10,755.1 L815.90,754.2 L816.70,753.7 L817.50,753.3 L818.30,752.7 L819.10,753.8 L819.90,752.3 L820.70,752.4 L821.10,752.5 L821.50,750.1 L822.30,745.4 L822.80,744.4 L823.10,744.1 L823.90,743.4 L824.70,743.0 L825.40,741.8 L825.50,741.5 L826.30,742.0 L827.10,742.4 L827.90,741.7 L828.60,742.2 L828.70,741.3 L829.50,741.6 L830.30,740.9 L831.10,739.0 L831.40,739.0 L831.90,741.2 L832.20,741.8 L832.70,740.2 L833.50,737.9 L834.30,736.5 L835.00,733.7 L835.10,733.9 L835.90,725.0 L836.50,719.8 L836.70,719.3 L837.50,717.7 L838.30,715.7 L838.60,715.5 L839.10,716.4 L839.90,718.9 L840.30,718.7 L840.70,717.7 L841.50,714.9 L842.30,711.8 L842.90,710.2 L843.10,711.8 L843.90,715.4 L844.70,719.6 L845.00,719.8 L845.50,719.9 L846.30,718.9 L847.10,719.8 L847.20,719.8 L847.90,716.6 L848.70,711.2 L849.30,708.1 L849.50,706.3 L850.30,702.6 L851.00,699.5 L851.10,698.8 L851.90,688.3 L852.50,680.3 L852.70,677.2 L853.50,673.1 L853.60,672.8 L854.30,683.7 L854.80,693.1 L855.10,690.8 L855.90,685.2 L856.70,678.8 L857.00,677.1 L857.50,678.9 L858.30,681.7 L859.10,686.7 L859.90,696.1 L860.60,703.8 L860.70,703.1 L861.50,699.4 L862.10,695.3 L862.30,697.2 L863.10,700.3 L863.80,703.8 L863.90,702.5 L864.70,698.5 L865.50,693.7 L865.90,693.1 L866.30,691.0 L867.10,687.1 L867.90,683.4 L868.10,681.4 L868.70,682.5 L869.50,685.9 L870.20,687.8 L870.30,689.5 L871.10,693.1 L871.90,695.7 L872.30,696.3 L872.70,694.3 L873.40,692.1 L873.50,692.1 L874.30,696.4 L875.10,700.2 L875.90,704.0 L876.00,703.8 L876.70,700.8 L877.50,697.8 L878.30,695.4 L878.70,694.2 L879.10,695.7 L879.90,695.9 L880.70,695.9 L881.50,696.6 L881.90,696.3 L882.30,697.7 L883.10,698.3 L883.90,697.4 L884.10,698.5 L884.70,703.1 L885.50,708.2 L886.20,713.4 L886.30,713.8 L887.10,714.8 L887.90,715.0 L888.30,716.6 L888.70,716.4 L889.50,715.3 L890.30,713.4 L891.10,713.4 L891.90,714.8 L892.70,715.6 L893.50,716.6 L893.70,716.6 L894.30,717.7 L895.10,720.3 L895.80,721.9 L895.90,721.0 L896.70,714.7 L897.50,704.9 L898.30,704.9 L899.10,703.5 L899.90,704.1 L900.10,704.2 L900.70,705.0 L901.50,706.6 L902.30,707.0 L903.10,709.9 L903.30,710.2 L903.90,712.3 L904.70,715.3 L905.40,716.6 L905.50,717.6 L906.30,720.8 L907.10,724.0 L907.60,726.2 L907.90,724.9 L908.70,723.8 L909.50,721.6 L909.70,720.4 L910.30,721.3 L911.10,721.4 L911.90,721.6 L912.70,723.7 L912.90,723.4 L913.50,725.2 L914.30,726.6 L915.10,728.7 L915.50,729.0 L915.90,728.7 L916.70,726.2 L917.50,724.1 L918.20,721.9 L918.30,722.7 L919.10,723.2 L919.90,725.1 L920.70,726.7 L921.00,726.2 L921.50,724.6 L922.30,721.2 L923.10,718.2 L923.60,716.6 L923.90,715.7 L924.70,713.3 L925.50,711.6 L926.10,710.2 L926.30,710.7 L927.10,712.1 L927.90,711.9 L928.30,713.4 L928.70,712.3 L929.50,709.6 L930.30,707.5 L931.00,705.9 L931.10,706.4 L931.90,705.4 L932.70,705.2 L933.20,704.9 L933.50,703.9 L934.30,701.5 L935.10,698.8 L935.30,698.5 L935.90,699.2 L936.70,698.0 L937.40,696.3 L937.50,697.5 L938.30,698.5 L939.10,700.4 L939.60,701.7 L939.90,702.8 L940.70,705.4 L941.50,707.7 L941.70,708.1 L942.30,708.0 L943.10,707.8 L943.90,708.6 L944.50,708.1 L944.70,709.0 L945.50,713.0 L946.30,716.7 L946.60,718.7 L947.10,726.0 L947.90,740.1 L948.10,743.3 L948.70,740.5 L949.50,737.7 L950.20,733.7 L950.30,733.8 L951.10,732.3 L951.90,730.1 L952.40,729.4 L952.70,731.5 L953.40,734.7 L953.50,734.6 L954.30,732.5 L955.10,729.4 L955.90,725.5 L956.60,724.1 L956.70,724.5 L957.50,725.0 L958.30,725.1 L959.10,725.3 L959.90,727.3 L960.70,728.1 L961.50,726.8 L962.00,727.3 L962.30,725.8 L963.10,721.4 L963.90,717.4 L964.10,716.6 L964.70,712.7 L965.50,708.8 L965.80,707.0 L966.30,705.9 L967.10,702.9 L967.90,701.5 L968.00,700.6 L968.70,706.0 L969.50,711.3 L970.30,707.9 L971.10,704.5 L971.60,701.7 L971.90,703.0 L972.70,705.9 L973.50,708.1 L973.70,709.1 L974.30,707.4 L975.10,704.6 L975.90,700.7 L976.50,698.5 L976.70,698.7 L977.50,700.4 L978.30,701.7 L979.10,703.8 L979.90,702.6 L980.00,701.7 L980.70,703.2 L981.50,703.6 L982.30,703.5 L983.10,704.3 L983.20,704.9 L983.90,705.5 L984.70,706.0 L985.50,705.8 L986.30,706.5 L986.40,705.9 L987.10,705.8 L987.90,706.8 L988.70,706.3 L989.50,706.6 L990.30,704.9 L990.70,705.9 L991.10,705.3 L991.90,706.8 L992.70,707.6 L993.50,706.7 L993.90,707.0 L994.30,704.3 L995.10,700.3 L995.40,699.5 L995.90,695.6 L996.70,691.0 L997.10,686.7 L997.50,685.8 L998.30,685.2 L999.10,684.0 L999.90,683.6 L1000.30,682.5 L1000.70,682.8 L1001.50,684.4 L1002.30,685.1 L1002.40,684.6 L1003.10,683.0 L1003.90,681.4 L1004.50,679.3 L1004.70,679.3 L1005.50,683.1 L1006.30,684.7 L1006.70,685.7 L1007.10,685.4 L1007.90,682.8 L1008.70,682.5 L1008.80,682.5 L1009.50,686.2 L1010.30,690.3 L1010.90,695.3 L1011.10,695.9 L1011.90,696.2 L1012.70,696.2 L1013.10,697.4 L1013.50,696.5 L1014.30,696.4 L1015.10,693.9 L1015.90,691.7 L1016.30,692.1 L1016.70,691.8 L1017.50,692.1 L1018.30,692.2 L1018.80,691.0 L1019.10,691.3 L1019.90,691.8 L1020.70,693.5 L1021.50,694.1 L1021.60,694.2 L1022.30,692.9 L1023.10,692.2 L1023.90,690.3 L1024.70,689.5 L1024.80,688.9 L1025.50,687.4 L1026.30,686.0 L1027.10,684.3 L1027.40,683.5 L1027.90,681.1 L1028.70,675.8 L1029.50,669.6 L1030.30,668.4 L1031.10,665.6 L1031.90,665.8 L1032.30,664.3 L1032.70,661.1 L1033.50,653.1 L1033.80,650.4 L1034.30,650.1 L1035.10,647.0 L1035.90,643.1 L1036.60,641.9 L1036.70,640.1 L1037.50,633.3 L1038.30,625.3 L1038.70,622.7 L1039.10,623.4 L1039.90,621.7 L1040.20,619.5 L1040.70,622.4 L1041.50,630.1 L1041.90,634.4 L1042.30,625.0 L1043.00,613.1 L1043.10,611.5 L1043.90,615.4 L1044.70,617.5 L1045.10,617.4 L1045.50,619.1 L1046.30,625.0 L1046.60,627.0 L1047.10,618.9 L1047.90,610.2 L1048.30,607.7 L1048.70,584.9 L1049.50,578.4 L1050.00,575.3 L1050.30,574.6 L1051.10,576.2 L1051.50,578.5 L1051.90,570.0 L1052.70,558.6 L1053.00,550.8 L1053.50,542.6 L1054.30,528.4 L1054.70,520.9 L1055.10,510.0 L1055.80,482.5 L1055.90,476.9 L1056.70,429.5 L1056.80,423.8 L1057.50,446.3 L1058.30,476.2 L1058.50,484.6 L1059.10,453.0 L1059.40,435.5 L1059.90,456.1 L1060.70,499.5 L1061.50,481.0 L1062.20,461.1 L1062.30,461.6 L1063.10,495.9 L1063.70,516.6 L1063.90,512.7 L1064.70,498.9 L1065.40,491.0 L1065.50,486.6 L1066.30,462.0 L1067.10,436.8 L1067.50,422.7 L1067.90,409.4 L1068.20,400.1 L1068.60,372.1 L1068.70,370.4 L1069.50,359.1 L1069.60,357.2 L1070.30,363.2 L1070.70,367.8 L1071.10,344.4 L1071.80,308.1 L1071.90,307.2 L1072.70,274.7 L1072.80,271.8 L1073.50,309.5 L1073.90,329.4 L1074.30,351.7 L1075.00,386.0 L1075.10,384.8 L1075.90,365.8 L1076.50,350.8 L1076.70,342.5 L1077.50,314.4 L1078.20,286.7 L1078.30,282.4 L1079.10,261.8 L1079.90,239.8 L1080.70,262.7 L1081.40,286.7 L1081.50,285.9 L1082.30,264.2 L1082.50,261.1 L1083.10,282.9 L1083.90,320.9 L1084.20,327.3 L1084.70,302.1 L1085.50,268.5 L1085.70,265.4 L1086.30,264.0 L1087.10,261.0 L1087.80,261.1 L1087.90,263.3 L1088.70,277.2 L1089.30,286.7 L1089.50,276.4 L1090.30,249.8 L1091.00,219.5 L1091.10,224.3 L1091.90,241.4 L1092.70,256.8 L1093.50,273.2 L1094.20,286.7 L1094.30,286.7 L1095.10,323.6 L1095.70,350.8 L1095.90,337.9 L1096.70,300.1 L1097.40,271.8 L1097.50,276.4 L1098.30,290.1 L1099.10,312.3 L1099.90,285.6 L1100.60,262.2 L1100.70,263.5 L1101.50,276.3 L1102.10,286.7 L1102.30,296.0 L1103.10,332.4 L1103.40,346.5 L1103.90,382.3 L1104.20,405.6 L1104.70,414.2 L1105.50,423.0 L1105.90,431.2 L1106.30,438.7 L1107.10,464.8 L1107.60,476.1 L1107.90,466.7 L1108.70,436.6 L1109.50,457.8 L1110.30,482.2 L1110.60,488.9 L1111.10,477.8 L1111.90,457.9 L1112.30,450.4 L1112.70,439.4 L1113.50,425.5 L1113.60,424.8 L1114.30,447.4 L1114.90,465.4 L1115.10,468.8 L1115.90,490.2 L1116.60,504.9 L1116.70,503.8 L1117.50,487.0 L1118.30,474.6 L1118.70,466.4 L1119.10,464.6 L1119.90,469.0 L1120.70,474.0 L1120.90,469.6 L1121.50,480.4 L1122.30,492.9 L1122.60,491.0 L1123.10,485.5 L1123.90,488.6 L1124.70,484.6 L1125.50,502.1 L1126.30,515.3 L1126.60,520.9 L1127.10,508.9 L1127.90,494.6 L1128.30,482.5 L1128.70,468.3 L1129.40,444.0 L1129.50,443.5 L1130.30,421.4 L1130.50,414.2 L1131.10,424.6 L1131.90,440.0 L1132.00,444.0 L1132.70,425.2 L1133.30,412.0 L1133.50,404.9 L1134.10,400.1 L1134.30,388.4 L1134.70,372.1 L1135.10,369.3 L1135.90,369.5 L1136.70,366.0 L1136.90,361.4 L1137.50,354.3 L1138.30,349.0 L1139.00,345.4 L1139.10,345.1 L1139.90,359.6 L1140.50,367.8 L1140.70,363.0 L1141.50,354.2 L1142.20,346.5 L1142.30,342.9 L1143.10,328.4 L1143.90,316.6 L1144.70,334.7 L1145.40,355.0 L1145.50,356.3 L1146.30,363.2 L1147.10,384.7 L1147.60,393.4 L1147.90,392.5 L1148.70,396.8 L1149.50,393.6 L1150.30,398.9 L1150.80,406.3 L1151.10,414.3 L1151.90,421.8 L1152.50,420.6 L1152.70,408.5 L1153.30,372.1 L1153.50,355.3 L1154.20,308.1 L1154.30,305.4 L1155.10,293.6 L1155.90,276.9 L1156.10,276.1 L1156.70,264.5 L1157.50,251.6 L1158.20,235.5 L1158.30,232.7 L1159.10,218.8 L1159.90,196.0 L1160.70,210.7 L1161.40,222.7 L1161.50,225.4 L1162.30,255.0 L1162.50,263.2 L1163.10,250.4 L1163.90,227.4 L1164.00,222.7 L1164.70,227.2 L1165.50,237.5 L1165.70,239.8 L1166.30,223.2 L1167.10,190.6 L1167.40,183.2 L1167.90,193.7 L1168.70,217.3 L1168.90,222.7 L1169.50,209.5 L1170.00,200.3 L1170.30,217.0 L1171.00,248.3 L1171.10,252.1 L1171.90,250.8 L1172.70,258.8 L1173.20,261.1 L1173.50,267.2 L1174.30,297.9 L1174.70,308.1 L1175.10,295.4 L1175.90,282.5 L1176.70,320.9 L1177.40,346.5 L1177.50,349.1 L1178.30,341.2 L1178.50,335.8 L1179.10,347.2 L1179.90,364.3 L1180.60,373.2 L1180.70,372.0 L1181.50,359.1 L1182.30,348.6 L1183.10,341.6 L1183.90,335.1 L1184.30,333.7 L1184.70,340.3 L1185.50,362.2 L1186.00,374.2 L1186.30,370.9 L1187.10,362.1 L1187.50,361.4 L1187.90,375.2 L1188.70,403.4 L1189.20,416.3 L1189.50,412.1 L1190.30,406.1 L1191.10,400.8 L1191.30,394.9 L1191.90,401.6 L1192.70,408.3 L1193.40,418.4 L1193.50,425.5 L1194.30,466.2 L1194.50,473.9 L1195.10,458.7 L1195.90,447.4 L1196.00,444.0 L1196.70,451.2 L1197.50,451.7 L1197.70,459.0 L1198.30,443.8 L1199.10,431.7 L1199.90,412.0 L1200.70,403.1 L1201.30,390.7 L1201.50,395.3 L1202.30,390.0 L1203.10,389.6 L1203.90,414.9 L1204.70,438.4 L1205.20,456.8 L1205.50,449.4 L1206.30,431.5 L1206.70,422.7 L1207.10,411.4 L1207.90,393.1 L1208.00,390.7 L1208.70,410.5 L1209.50,426.4 L1210.10,448.3 L1210.30,444.3 L1211.10,435.5 L1211.90,418.9 L1212.20,414.2 L1212.70,424.2 L1213.50,444.1 L1213.70,448.3 L1214.30,431.2 L1214.80,418.4 L1215.10,416.0 L1215.90,409.5 L1216.50,401.3 L1216.70,383.4 L1216.90,372.1 L1217.50,372.4 L1218.30,367.9 L1218.40,363.6 L1219.10,368.8 L1219.90,368.7 L1220.10,372.1 L1220.70,380.0 L1221.50,389.9 L1221.60,393.4 L1222.30,397.0 L1223.10,409.6 L1223.90,415.0 L1224.40,418.4 L1224.70,418.4 L1225.50,416.4 L1226.30,418.5 L1226.50,418.4 L1227.10,422.2 L1227.60,431.2 L1227.90,431.3 L1228.70,434.0 L1229.50,432.2 L1230.30,433.9 L1230.80,432.3 L1231.10,437.1 L1231.90,461.1 L1232.70,499.1 L1232.90,508.1 L1233.50,517.6 L1234.00,529.4 L1234.20,528.3 L1234.30,533.3 L1235.10,521.7 L1235.90,514.9 L1236.30,509.1 L1236.70,515.1 L1237.50,521.6 L1238.30,528.7 L1238.40,530.4 L1239.10,524.9 L1239.90,511.1 L1240.60,504.8 L1240.70,504.4 L1241.50,510.2 L1242.30,508.6 L1242.70,509.1 L1243.10,518.6 L1243.90,536.3 L1244.40,545.4 L1244.70,555.0 L1245.50,580.0 L1245.90,588.1 L1246.30,597.0 L1247.10,611.6 L1247.40,616.9 L1247.90,611.4 L1248.70,606.0 L1249.50,596.6 L1250.30,604.5 L1251.10,614.1 L1251.20,613.7 L1251.90,609.7 L1252.70,602.7 L1253.40,596.6 L1253.50,596.6 L1254.30,605.4 L1255.10,613.7 L1255.90,602.5 L1256.60,594.5 L1256.70,594.0 L1257.50,589.4 L1258.30,585.8 L1258.70,581.7 L1259.10,586.3 L1259.80,596.6 L1259.90,595.1 L1260.70,588.3 L1261.50,579.5 L1261.90,576.3 L1262.30,578.1 L1263.10,580.1 L1263.90,586.2 L1264.00,585.9 L1264.70,580.2 L1265.50,578.0 L1266.20,575.3 L1266.30,576.7 L1267.10,575.7 L1267.90,571.0 L1268.70,574.4 L1269.40,581.7 L1269.50,584.5 L1270.30,592.9 L1270.90,598.7 L1271.10,597.1 L1271.90,599.5 L1272.60,594.5 L1272.70,593.2 L1273.50,604.4 L1274.30,611.5 L1275.10,610.3 L1275.80,607.3 L1275.90,610.5 L1276.70,616.6 L1277.30,619.0 L1277.50,615.3 L1278.30,592.7 L1278.50,589.1 L1279.10,600.1 L1279.90,611.7 L1280.00,613.7 L1280.70,615.8 L1281.50,618.6 L1282.20,622.2 L1282.30,621.8 L1283.10,617.6 L1283.90,614.2 L1284.30,613.7 L1284.70,611.4 L1285.50,610.0 L1286.30,606.3 L1286.40,607.3 L1287.10,612.8 L1287.90,615.1 L1288.60,616.9 L1288.70,617.8 L1289.50,615.6 L1290.30,615.9 L1291.10,616.2 L1291.90,616.6 L1292.70,615.2 L1292.80,615.8 L1293.50,610.9 L1294.30,607.0 L1295.00,603.0 L1295.10,601.3 L1295.90,602.7 L1296.70,600.7 L1297.50,599.4 L1297.80,598.7 L1298.30,605.2 L1299.10,620.5 L1299.30,626.5 L1299.90,639.5 L1300.30,646.8 L1300.70,645.6 L1301.50,640.6 L1302.30,636.9 L1302.50,637.2 L1303.10,640.6 L1303.90,641.3 L1304.60,645.7 L1304.70,645.6 L1305.50,641.8 L1306.30,638.0 L1306.70,636.1 L1307.10,636.8 L1307.90,635.7 L1308.70,637.6 L1308.90,637.2 L1309.50,635.3 L1310.30,635.5 L1311.10,635.2 L1311.90,632.5 L1312.10,629.7 L1312.70,631.2 L1313.50,633.7 L1314.20,637.2 L1314.30,638.1 L1315.10,637.2 L1315.90,641.2 L1316.30,640.4 L1316.70,641.8 L1317.50,640.6 L1318.30,637.2 L1319.10,637.7 L1319.90,638.2 L1320.60,638.2 L1320.70,639.2 L1321.50,632.0 L1322.10,628.6 L1322.30,625.2 L1323.10,612.2 L1323.80,600.9 L1323.90,598.7 L1324.70,595.1 L1325.50,597.1 L1325.90,596.6 L1326.30,593.3 L1327.10,584.6 L1327.60,581.7 L1327.90,579.4 L1328.70,577.2 L1329.50,577.2 L1329.80,576.3 L1330.30,578.9 L1331.10,580.4 L1331.90,582.7 L1332.70,590.9 L1333.40,594.5 L1333.50,592.6 L1334.30,579.9 L1334.90,573.1 L1335.10,573.0 L1335.90,568.6 L1336.60,567.8 L1336.70,565.7 L1337.50,571.0 L1338.30,577.3 L1338.70,579.5 L1339.10,577.6 L1339.90,580.1 L1340.70,584.4 L1340.90,582.7 L1341.50,584.7 L1342.30,587.2 L1342.60,588.1 L1343.10,594.8 L1343.90,603.4 L1344.10,607.3 L1344.70,587.8 L1345.10,579.5 L1345.50,567.8 L1346.30,552.5 L1346.90,536.8 L1347.10,539.0 L1347.90,537.7 L1348.70,537.7 L1349.40,534.7 L1349.50,537.4 L1350.30,543.8 L1350.50,544.3 L1351.10,539.0 L1351.90,533.8 L1352.00,534.7 L1352.70,535.3 L1353.50,534.7 L1354.30,531.7 L1354.70,532.6 L1355.10,528.2 L1355.90,525.3 L1356.70,518.1 L1356.90,516.6 L1357.50,522.8 L1358.30,533.8 L1359.00,543.2 L1359.10,541.8 L1359.90,535.5 L1360.70,533.1 L1361.20,526.2 L1361.50,524.3 L1362.30,527.4 L1363.10,523.1 L1363.30,525.1 L1363.90,524.4 L1364.70,531.6 L1365.40,539.0 L1365.50,538.5 L1366.30,540.6 L1367.10,544.5 L1367.60,546.4 L1367.90,545.3 L1368.70,543.9 L1369.50,547.4 L1369.70,544.3 L1370.30,543.7 L1371.10,538.2 L1371.80,537.9 L1371.90,538.0 L1372.70,547.0 L1373.30,551.8 L1373.50,550.9 L1374.30,548.8 L1375.00,546.4 L1375.10,547.1 L1375.90,550.9 L1376.70,557.1 L1377.50,562.5 L1378.20,563.5 L1378.30,561.9 L1379.10,554.4 L1379.90,543.9 L1380.40,541.1 L1380.70,534.1 L1381.50,521.3 L1381.90,515.5 L1382.30,517.5 L1383.10,513.2 L1383.90,511.4 L1384.00,512.3 L1384.70,515.0 L1385.50,515.6 L1385.70,517.6 L1386.30,515.7 L1387.10,511.0 L1387.90,508.8 L1388.30,508.0 L1388.70,511.6 L1389.50,516.6 L1390.00,517.6 L1390.30,518.1 L1391.10,520.3 L1391.90,519.4 L1392.70,522.6 L1393.20,520.8 L1393.50,521.3 L1394.30,527.0 L1394.70,526.2 L1395.10,523.5 L1395.90,523.1 L1396.70,523.7 L1397.50,521.1 L1398.10,523.0 L1398.30,519.2 L1399.10,524.5 L1399.90,525.2 L1400.60,528.3 L1400.70,532.9 L1401.50,547.7 L1401.70,553.9 L1402.30,554.5 L1403.10,555.9 L1403.80,553.9 L1403.90,554.9 L1404.70,549.4 L1405.50,541.1 L1406.30,544.5 L1407.10,550.0 L1407.90,556.1 L1408.10,557.1 L1408.70,562.5 L1409.50,564.0 L1410.20,562.5 L1410.30,561.6 L1411.10,559.5 L1411.90,555.5 L1412.40,553.9 L1412.70,552.6 L1413.50,552.5 L1414.10,549.6 L1414.30,550.4 L1415.10,550.9 L1415.90,552.2 L1416.00,552.8 L1416.70,550.6 L1417.50,544.5 L1418.10,540.0 L1418.30,540.2 L1419.10,541.6 L1419.90,537.3 L1420.70,537.9 L1420.90,539.0 L1421.50,541.7 L1422.30,547.5 L1422.40,548.6 L1423.10,542.3 L1423.90,535.0 L1424.10,534.7 L1424.70,522.8 L1425.50,506.2 L1425.80,502.7 L1426.30,495.4 L1427.10,481.3 L1427.30,481.3 L1427.90,481.7 L1428.70,475.9 L1429.50,472.8 L1430.30,472.9 L1431.10,468.0 L1431.60,468.5 L1431.90,474.5 L1432.70,466.0 L1433.50,470.8 L1434.30,464.3 L1434.80,464.3 L1435.10,459.5 L1435.90,462.1 L1436.70,457.7 L1437.20,455.0 L1437.50,451.5 L1438.30,448.6 L1439.10,446.5 L1439.30,448.6 L1439.90,435.5 L1440.70,412.6 L1440.80,416.6 L1441.50,402.4 L1441.90,393.1 L1442.30,403.8 L1443.10,409.1 L1443.60,420.9 L1443.90,418.5 L1444.70,413.7 L1445.50,402.6 L1445.70,403.8 L1446.30,400.3 L1447.10,398.4 L1447.90,395.3 L1448.70,404.4 L1449.40,412.3 L1449.50,412.9 L1450.30,395.4 L1451.10,391.6 L1451.50,386.7 L1451.90,381.7 L1452.70,377.9 L1453.50,373.9 L1453.60,368.6 L1454.30,380.5 L1455.10,397.2 L1455.80,405.9 L1455.90,405.8 L1456.70,409.2 L1457.50,411.9 L1457.90,416.6 L1458.30,426.6 L1459.10,433.6 L1459.40,435.8 L1459.90,426.3 L1460.70,413.3 L1461.10,402.7 L1461.50,401.6 L1462.30,405.1 L1463.10,410.3 L1463.70,408.1 L1463.90,407.3 L1464.70,389.7 L1465.40,376.1 L1465.50,374.9 L1466.30,352.0 L1467.10,327.0 L1467.90,326.5 L1468.70,322.0 L1469.20,320.6 L1469.50,320.5 L1470.20,320.0 L1470.30,317.9 L1471.10,276.2 L1471.20,268.5 L1471.60,229.7 L1471.90,213.5 L1472.70,194.5 L1473.10,178.2 L1473.50,193.2 L1473.90,205.4 L1474.30,182.1 L1474.50,174.3 L1475.10,199.8 L1475.20,203.4 L1475.80,156.9 L1475.90,157.3 L1476.70,187.9 L1477.50,134.1 L1478.30,176.2 L1478.40,180.1 L1478.90,153.9 L1479.10,180.8 L1479.40,233.6 L1479.90,211.3 L1480.70,168.5 L1481.30,203.4 L1481.50,194.0 L1482.10,163.6 L1482.30,172.9 L1482.90,202.4 L1483.10,195.9 L1483.80,150.6 L1483.90,157.6 L1484.50,200.5 L1484.70,193.2 L1485.20,160.7 L1485.50,178.1 L1486.00,197.6 L1486.30,175.7 L1486.70,146.7 L1487.10,169.5 L1487.70,195.7 L1487.90,185.6 L1488.60,158.8 L1488.70,163.8 L1489.50,206.8 L1490.10,240.4 L1490.30,233.7 L1491.10,215.8 L1491.20,207.3 L1491.90,192.8 L1492.00,189.4 L1492.70,208.8 L1493.50,229.7 L1494.30,252.6 L1494.90,267.5 L1495.10,263.0 L1495.90,230.1 L1496.40,215.1 L1496.70,220.3 L1497.50,231.3 L1497.80,239.4 L1498.30,242.5 L1498.80,246.2 L1499.10,229.7 L1499.80,187.9 L1499.90,188.7 L1500.70,163.6 L1501.40,182.1 L1501.50,178.9 L1502.20,148.6 L1502.30,150.1 L1503.10,174.1 L1503.20,178.2 L1503.90,176.0 L1504.10,183.0 L1504.70,170.5 L1504.80,168.5 L1505.50,164.9 L1505.60,166.6 L1506.30,184.5 L1506.60,184.0 L1507.10,167.3 L1507.20,163.6 L1507.90,150.2 L1508.00,151.0 L1508.70,170.7 L1509.00,178.2 L1509.50,169.6 L1509.70,160.7 L1510.30,166.4 L1510.40,166.6 L1511.10,187.9 L1511.90,191.8 L1512.70,215.8 L1513.20,231.6 L1513.50,236.4 L1514.30,249.1 L1515.10,236.7 L1515.80,224.8 L1515.90,227.6 L1516.70,240.8 L1517.20,252.0 L1517.50,253.9 L1518.30,272.1 L1519.10,286.1 L1519.20,288.9 L1519.90,271.7 L1520.60,249.1 L1520.70,243.3 L1521.50,223.8 L1522.10,205.4 L1522.30,201.7 L1523.00,187.9 L1523.10,186.3 L1523.90,183.4 L1524.00,178.2 L1524.70,196.0 L1524.80,197.6 L1525.50,180.1 L1526.20,193.7 L1526.30,190.6 L1526.90,177.2 L1527.10,179.9 L1527.90,189.1 L1528.40,197.6 L1528.70,222.8 L1529.10,258.8 L1529.50,285.6 L1529.80,306.3 L1530.30,289.9 L1531.10,255.5 L1531.30,249.1 L1531.90,235.4 L1532.30,234.5 L1532.70,240.2 L1533.50,258.3 L1534.20,273.3 L1534.30,271.6 L1535.10,252.7 L1535.70,239.4 L1535.90,234.4 L1536.70,218.4 L1537.10,213.1 L1537.50,224.6 L1538.30,238.8 L1538.40,244.2 L1539.10,255.4 L1539.50,258.8 L1539.90,254.6 L1540.70,249.1 L1541.50,284.9 L1542.00,306.3 L1542.30,297.9 L1543.10,265.6 L1543.40,258.8 L1543.90,259.0 L1544.40,249.1 L1544.70,247.7 L1545.50,239.7 L1545.80,244.2 L1546.30,232.8 L1547.10,222.7 L1547.30,220.0 L1547.90,216.6 L1548.30,207.3 L1548.70,202.7 L1549.20,197.6 L1549.50,204.5 L1550.30,219.4 L1550.70,223.9 L1551.4,223.9 L1551.4,790 L37.5,790 Z" fill="url(#gfill)" clip-path="url(#plot)"/>
<g fill="none" stroke="#20a24a" stroke-width="4" stroke-linejoin="round" stroke-linecap="butt" clip-path="url(#plot)">
<path d="M37.50,787.4 L38.30,787.4 L39.10,787.4 L39.90,787.4 L40.70,787.4 L41.50,787.4 L42.30,787.4 L43.10,787.4 L43.90,787.3 L44.70,787.3 L45.50,787.4 L46.30,787.4 L47.10,787.4 L47.90,787.4 L48.70,787.3 L49.50,787.3 L50.30,787.4 L51.10,787.3 L51.90,787.3 L52.70,787.3 L53.50,787.3 L54.30,787.3 L55.10,787.3 L55.90,787.3 L56.70,787.3 L57.50,787.3 L58.30,787.3 L59.10,787.3 L59.90,787.2 L60.70,787.3 L61.50,787.2 L62.30,787.3 L63.10,787.2 L63.90,787.3 L64.70,787.2 L65.50,787.2 L66.30,787.3 L67.10,787.3 L67.90,787.3 L68.70,787.2 L69.50,787.2 L70.30,787.2 L71.10,787.2 L71.90,787.2 L72.70,787.2 L73.50,787.2 L74.30,787.2 L75.10,787.2 L75.90,787.2 L76.70,787.2 L77.50,787.2 L78.30,787.2 L79.10,787.2 L79.90,787.2 L80.70,787.2 L81.50,787.2 L82.30,787.2 L83.10,787.2 L83.90,787.2 L84.70,787.1 L85.50,787.2 L86.30,787.1 L87.10,787.2 L87.90,787.1 L88.70,787.1 L89.50,787.1 L90.30,787.1 L91.10,787.1 L91.90,787.1 L92.60,787.1 L92.70,787.1 L93.50,787.0 L94.30,787.0 L95.10,787.0 L95.90,786.9 L96.70,786.9 L97.50,786.8 L98.30,786.8 L99.10,786.7 L99.90,786.7 L100.70,786.7 L101.50,786.6 L102.30,786.5 L103.10,786.6 L103.90,786.5 L104.70,786.5 L105.10,786.4 L105.50,786.2 L106.30,785.9 L107.10,785.5 L107.90,785.0 L108.70,784.6 L109.50,784.2 L110.10,783.9 L110.30,783.6 L111.10,782.4 L111.90,781.2 L112.60,780.1 L112.70,780.1 L113.50,779.6 L114.30,778.9 L115.10,778.5 L115.60,778.1 L115.90,778.4 L116.70,779.1 L117.50,779.9 L118.30,780.8 L118.90,781.4 L119.10,781.6 L119.90,781.8 L120.70,782.2 L121.50,782.6 L122.30,782.9 L122.70,783.1 L123.10,782.9 L123.90,782.6 L124.70,782.2 L125.50,781.7 L126.30,781.3 L127.10,780.9 L127.70,780.6 L127.90,780.7 L128.70,780.6 L129.50,780.7 L130.30,780.6 L131.10,780.7 L131.90,780.6 L132.70,780.6 L133.50,780.6 L134.30,780.7 L135.10,780.7 L135.20,780.6 L135.90,780.7 L136.70,781.0 L137.50,781.2 L138.30,781.5 L139.10,781.8 L139.90,782.0 L140.20,782.1 L140.70,782.2 L141.50,782.4 L142.30,782.6 L143.10,782.8 L143.90,783.0 L144.70,783.2 L145.50,783.4 L146.30,783.5 L147.10,783.8 L147.70,783.9 L147.90,783.9 L148.70,783.6 L149.50,783.4 L150.30,783.2 L151.10,783.0 L151.90,782.9 L152.70,782.6 L153.50,782.8 L154.30,782.9 L155.10,783.2 L155.90,783.4 L156.70,783.5 L157.50,783.8 L158.30,783.9 L159.10,784.3 L159.90,784.5 L160.70,784.6 L161.50,784.8 L162.30,784.9 L162.70,785.1 L163.10,785.0 L163.90,785.1 L164.70,784.9 L165.50,784.9 L166.30,785.0 L167.10,785.0 L167.90,784.9 L168.70,784.8 L169.50,784.8 L170.30,784.8 L171.10,784.7 L171.90,784.7 L172.70,784.7 L173.50,784.6 L174.30,784.6 L175.10,784.6 L175.20,784.6 L175.90,784.5 L176.70,784.2 L177.50,784.0 L178.30,783.7 L179.10,783.5 L179.90,783.3 L180.70,783.0 L181.50,782.9 L182.30,782.8 L182.70,782.6 L183.10,782.7 L183.90,782.7 L184.70,782.6 L185.50,782.7 L186.30,782.7 L187.10,782.7 L187.90,782.6 L188.70,782.7 L189.50,782.8 L190.30,782.8 L191.10,782.8 L191.90,782.9 L192.70,782.9 L193.50,782.9 L194.30,783.0 L195.10,782.9 L195.90,782.9 L196.70,783.0 L197.50,783.0 L198.30,783.1 L199.10,783.1 L199.90,783.1 L200.30,783.1 L200.70,783.0 L201.50,783.2 L202.30,783.2 L203.10,783.3 L203.90,783.4 L204.70,783.5 L205.50,783.6 L206.30,783.6 L207.10,783.6 L207.90,783.7 L208.70,783.7 L209.50,783.8 L210.30,783.9 L211.10,783.9 L211.90,784.0 L212.70,784.1 L213.50,784.2 L214.30,784.2 L215.10,784.2 L215.90,784.3 L216.70,784.5 L217.50,784.5 L218.30,784.5 L219.10,784.6 L219.90,784.7 L220.70,784.7 L221.50,784.8 L222.30,784.8 L223.10,784.9 L223.90,785.0 L224.70,785.1 L225.30,785.1 L225.50,785.1 L226.30,785.1 L227.10,785.2 L227.90,785.2 L228.70,785.2 L229.50,785.3 L230.30,785.3 L231.10,785.4 L231.90,785.4 L232.70,785.4 L233.50,785.5 L234.30,785.6 L235.10,785.5 L235.90,785.6 L236.70,785.6 L237.50,785.7 L238.30,785.7 L239.10,785.8 L239.90,785.8 L240.70,785.8 L241.50,785.9 L242.30,785.9 L243.10,786.0 L243.90,786.0 L244.70,786.0 L245.50,786.0 L246.30,786.1 L247.10,786.1 L247.90,786.2 L248.70,786.2 L249.50,786.3 L250.30,786.3 L251.10,786.3 L251.90,786.4 L252.70,786.4 L253.50,786.4 L254.30,786.4 L255.10,786.5 L255.90,786.6 L256.70,786.6 L257.50,786.6 L258.30,786.7 L259.10,786.7 L259.90,786.8 L260.70,786.8 L261.50,786.8 L262.30,786.8 L262.80,786.9 L263.10,786.9 L263.90,786.9 L264.70,787.0 L265.50,787.0 L266.30,786.9 L267.10,786.9 L267.90,786.9 L268.70,786.9 L269.50,787.0 L270.30,787.0 L271.10,786.9 L271.90,787.0 L272.70,787.0 L273.50,786.9 L274.30,786.9 L275.10,787.0 L275.90,787.0 L276.70,787.0 L277.50,787.0 L278.30,787.0 L279.10,787.0 L279.90,787.0 L280.70,787.0 L281.50,787.0 L282.30,787.0 L283.10,787.0 L283.90,787.0 L284.70,787.0 L285.50,787.0 L286.30,787.0 L287.10,787.0 L287.90,787.0 L288.70,787.0 L289.50,787.0 L290.30,787.1 L291.10,787.0 L291.90,787.1 L292.70,787.0 L293.50,787.0 L294.30,787.1 L295.10,787.1 L295.90,787.1 L296.70,787.1 L297.50,787.1 L298.30,787.1 L299.10,787.1 L299.90,787.1 L300.40,787.1 L300.70,787.1 L301.50,787.1 L302.30,787.1 L303.10,787.1 L303.90,787.1 L304.70,787.1 L305.50,787.1 L306.30,787.1 L307.10,787.1 L307.90,787.1 L308.70,787.1 L309.50,787.1 L310.30,787.1 L311.10,787.1 L311.90,787.1 L312.70,787.1 L313.50,787.1 L314.30,787.1 L315.10,787.1 L315.90,787.1 L316.70,787.1 L317.50,787.1 L318.30,787.1 L319.10,787.1 L319.90,787.1 L320.70,787.1 L321.50,787.1 L322.30,787.1 L323.10,787.1 L323.90,787.1 L324.70,787.1 L325.50,787.1 L326.30,787.1 L327.10,787.1 L327.90,787.1 L328.70,787.1 L329.50,787.1 L330.30,787.1 L331.10,787.1 L331.90,787.1 L332.70,787.1 L333.50,787.1 L334.30,787.1 L335.10,787.1 L335.90,787.1 L336.70,787.1 L337.50,787.1 L338.30,787.1 L339.10,787.1 L339.90,787.1 L340.70,787.1 L341.50,787.1 L342.30,787.1 L343.10,787.1 L343.90,787.1 L344.70,787.1 L345.50,787.1 L346.30,787.1 L347.10,787.1 L347.90,787.1 L348.70,787.1 L349.50,787.1 L350.30,787.1 L350.40,787.1 L351.10,787.1 L351.90,787.0 L352.70,787.0 L353.50,786.9 L354.30,786.9 L355.10,786.8 L355.90,786.8 L356.70,786.7 L357.50,786.7 L358.30,786.6 L359.10,786.6 L359.90,786.5 L360.70,786.5 L361.50,786.4 L362.30,786.4 L363.10,786.4 L363.90,786.3 L364.70,786.2 L365.50,786.1 L366.30,786.2 L367.10,786.1 L367.90,786.0 L368.70,786.0 L369.50,785.9 L370.30,785.9 L371.10,785.9 L371.90,785.8 L372.70,785.8 L373.50,785.7 L374.30,785.6 L375.10,785.6 L375.50,785.6 L375.90,785.6 L376.70,785.6 L377.50,785.6 L378.30,785.6 L379.10,785.5 L379.90,785.5 L380.70,785.5 L381.50,785.6 L382.30,785.6 L383.10,785.5 L383.90,785.5 L384.70,785.5 L385.50,785.5 L386.30,785.4 L387.10,785.4 L387.90,785.4 L388.70,785.4 L389.50,785.4 L390.30,785.3 L391.10,785.4 L391.90,785.4 L392.70,785.4 L393.50,785.3 L394.30,785.4 L395.10,785.4 L395.90,785.3 L396.70,785.3 L397.50,785.4 L398.30,785.3 L399.10,785.3 L399.90,785.2 L400.70,785.2 L401.50,785.2 L402.30,785.2 L403.10,785.2 L403.90,785.3 L404.70,785.2 L405.50,785.2 L406.30,785.3 L407.10,785.2 L407.90,785.1 L408.70,785.2 L409.50,785.1 L410.30,785.2 L411.10,785.1 L411.90,785.1 L412.70,785.1 L413.50,785.1 L414.30,785.1 L415.00,785.1 L415.10,785.1 L415.90,785.0 L416.70,785.1 L417.50,785.0 L418.30,785.0 L419.10,784.9 L419.90,784.8 L420.70,784.9 L421.50,784.9 L422.30,784.8 L423.10,784.7 L423.90,784.7 L424.70,784.6 L425.50,784.6 L426.30,784.6 L427.10,784.6 L427.90,784.5 L428.70,784.5 L429.50,784.4 L430.30,784.4 L431.10,784.4 L431.90,784.3 L432.70,784.3 L433.50,784.3 L434.30,784.3 L435.10,784.3 L435.90,784.2 L436.70,784.1 L437.50,784.1 L438.30,784.1 L439.10,784.1 L439.90,784.0 L440.70,784.0 L441.50,784.0 L442.30,783.9 L442.50,783.9 L443.10,783.8 L443.90,783.6 L444.70,783.5 L445.50,783.3 L446.30,783.1 L447.10,783.1 L447.90,782.9 L448.70,782.8 L449.50,782.6 L450.30,782.5 L451.10,782.3 L451.90,782.1 L452.00,782.1 L452.70,782.3 L453.50,782.3 L454.30,782.4 L455.10,782.6 L455.90,782.6 L456.70,782.7 L457.50,782.7 L458.30,782.7 L459.10,782.8 L459.90,782.9 L460.70,782.9 L461.50,783.0 L462.30,783.0 L463.10,783.0 L463.90,783.1 L464.70,783.2 L465.50,783.1 L466.30,783.3 L467.10,783.3 L467.90,783.3 L468.70,783.4 L469.50,783.4 L470.10,783.4 L470.30,783.5 L471.10,783.3 L471.90,783.3 L472.70,783.3 L473.50,783.3 L474.30,783.1 L475.10,783.2 L475.90,783.2 L476.70,783.1 L477.50,783.2 L478.30,783.1 L479.10,783.0 L479.90,783.0 L480.70,782.9 L481.50,782.9 L482.30,782.9 L483.10,782.9 L483.90,782.8 L484.70,782.8 L485.50,782.7 L486.30,782.8 L487.10,782.7 L487.90,782.7 L488.70,782.6 L489.50,782.6 L490.10,782.6 L490.30,782.5 L491.10,782.7 L491.90,782.6 L492.70,782.5 L493.50,782.5 L494.30,782.6 L495.10,782.5 L495.90,782.5 L496.70,782.3 L497.50,782.3 L498.30,782.4 L499.10,782.3 L499.90,782.2 L500.00,782.3 L500.70,782.2 L501.50,782.2 L502.30,782.1 L503.10,782.1 L503.90,782.2 L504.70,782.2 L505.50,782.0 L506.30,782.0 L507.10,781.9 L507.90,781.8 L508.70,781.9 L509.50,781.8 L510.30,781.7 L511.10,781.6 L511.90,781.6 L512.70,781.7 L513.50,781.6 L514.30,781.4 L515.10,781.4 L515.90,781.3 L516.70,781.4 L517.50,781.3 L518.30,781.3 L519.10,781.2 L519.90,781.1 L520.70,781.1 L521.30,781.1 L521.50,781.0 L522.30,780.3 L523.10,779.9 L523.90,779.3 L524.50,778.9 L524.70,779.2 L525.50,780.2 L526.30,781.1 L526.70,781.7 L527.10,781.5 L527.90,781.4 L528.70,781.4 L529.50,781.2 L530.30,780.9 L531.10,780.8 L531.90,780.8 L532.70,780.8 L533.50,780.6 L534.30,780.4 L535.10,780.3 L535.90,780.0 L536.70,779.9 L537.50,779.8 L538.30,779.6 L539.10,779.5 L539.90,779.4 L540.70,779.3 L541.50,779.2 L542.30,779.1 L542.70,778.9 L543.10,778.7 L543.90,778.2 L544.70,777.9 L545.50,777.6 L545.90,777.4 L546.30,777.6 L547.10,777.8 L547.90,778.2 L548.70,778.4 L549.50,778.6 L550.30,779.2 L551.10,779.3 L551.90,779.7 L552.70,779.9 L553.40,780.2 L553.50,780.1 L554.30,779.9 L555.10,779.8 L555.90,779.7" stroke-width="3.3"/>
<path d="M555.10,779.8 L555.90,779.7 L556.70,779.3 L557.50,779.1 L558.30,779.0 L559.10,778.7 L559.90,778.5 L560.70,777.8 L561.50,778.3 L562.30,778.1 L563.10,778.4 L563.90,777.8 L564.00,777.4 L564.70,777.2 L565.50,775.8 L566.30,776.2 L567.10,776.3 L567.90,775.4 L568.70,774.1 L569.50,774.4 L570.30,773.5 L570.40,773.2 L571.10,772.2 L571.90,772.4 L572.70,770.9 L573.50,770.2 L574.30,769.1 L575.10,767.5 L575.80,767.8 L575.90,767.8 L576.70,766.9 L577.50,765.8 L578.30,763.8 L579.10,764.6 L579.90,763.7 L580.70,763.0 L581.10,761.9 L581.50,762.1 L582.30,762.5 L583.10,763.6 L583.90,765.1 L584.70,764.0 L585.40,765.3 L585.50,764.9 L586.30,765.7 L587.10,766.6 L587.90,765.9 L588.70,765.4 L589.50,766.1 L590.30,766.3 L591.10,765.7 L591.80,766.8 L591.90,766.7 L592.70,768.3 L593.50,768.4 L594.30,770.6 L595.00,771.0 L595.10,771.2 L595.90,768.3 L596.70,768.2 L597.50,765.9 L598.20,764.6 L598.30,764.2 L599.10,763.8 L599.90,762.4 L600.70,761.7 L601.40,761.4 L601.50,761.1 L602.30,757.4 L603.10,756.6 L603.90,755.4 L604.70,753.5 L605.50,751.9 L605.70,750.8 L606.30,752.2 L607.10,751.5 L607.90,751.1 L608.70,751.5 L608.90,750.8 L609.50,750.0 L610.30,748.1 L611.10,747.6 L611.90,746.1 L612.10,745.4 L612.70,746.0 L613.50,748.8 L614.30,750.6 L615.10,752.6 L615.30,752.9 L615.90,756.5 L616.70,761.8 L616.80,761.4 L617.50,759.8 L618.30,758.6 L619.10,757.4 L619.90,755.9 L620.60,754.0 L620.70,753.8 L621.50,753.4 L622.30,752.1 L623.10,750.1 L623.80,749.7 L623.90,750.5 L624.70,747.7 L625.50,744.5 L626.30,740.8 L627.00,740.1 L627.10,739.5 L627.90,739.1 L628.70,739.7 L629.50,738.3 L630.20,736.9 L630.30,736.5 L631.10,737.0 L631.90,738.3 L632.30,739.0 L632.70,738.6 L633.50,733.1 L634.30,728.7 L635.10,725.6 L635.50,723.0 L635.90,722.1 L636.70,723.0 L637.50,721.9 L637.70,721.9 L638.30,730.3 L638.70,735.8 L639.10,730.2 L639.80,720.9 L639.90,721.1 L640.70,717.3 L641.50,713.6 L641.90,713.4 L642.30,710.2 L643.10,705.7 L643.90,700.2 L644.70,694.9 L645.10,691.0 L645.50,683.3 L646.30,667.8 L646.90,654.7 L647.10,639.7 L647.30,623.8 L647.90,633.6 L648.70,646.2 L648.80,648.3 L649.50,636.5 L650.30,624.7 L650.90,613.1 L651.10,619.4 L651.90,640.7 L652.60,661.1 L652.70,659.0 L653.50,651.0 L654.10,644.0 L654.30,646.9 L655.10,656.7 L655.80,666.4 L655.90,664.0 L656.70,650.3 L657.50,636.2 L658.00,624.8 L658.30,632.1 L659.10,649.2 L659.70,661.1 L659.90,658.8 L660.70,656.1 L661.20,653.6 L661.50,659.6 L662.30,672.9 L663.10,686.2 L663.30,688.9 L663.90,687.8 L664.70,686.6 L665.40,684.6 L665.50,686.2 L666.30,693.7 L667.10,701.4 L667.90,709.0 L668.70,716.7 L669.50,724.9 L669.70,727.3 L670.30,722.1 L671.10,714.3 L671.90,706.2 L672.70,698.5 L673.50,690.9 L674.00,686.7 L674.30,687.1 L675.10,686.1 L675.90,686.4 L676.10,685.7 L676.70,694.9 L677.20,701.7 L677.50,700.2 L678.30,694.7 L679.10,688.9 L679.70,685.7 L679.90,687.0 L680.70,692.8 L681.50,698.1 L682.30,704.5 L682.50,705.9 L683.10,706.8 L683.90,708.0 L684.70,708.5 L685.50,709.0 L685.70,710.2 L686.30,715.0 L687.10,720.6 L687.80,725.1 L687.90,725.5 L688.70,726.6 L689.50,727.6 L690.30,728.7 L691.00,729.4 L691.10,729.2 L691.90,726.9 L692.70,723.5 L693.50,720.2 L694.20,718.7 L694.30,718.4 L695.10,714.3 L695.90,711.8 L696.70,709.6 L697.50,706.4 L698.30,703.5 L698.50,702.7 L699.10,703.0 L699.90,703.6 L700.70,702.4 L701.50,701.7 L701.70,702.1 L702.30,703.9 L703.10,705.6 L703.90,706.9 L704.70,709.8 L705.50,711.7 L706.00,712.3 L706.30,712.0 L707.10,714.3 L707.90,716.5 L708.70,717.2 L709.50,719.9 L710.20,720.9 L710.30,721.7 L711.10,720.6 L711.90,720.5 L712.70,721.3 L713.40,720.9 L713.50,722.0 L714.30,724.1 L715.10,725.5 L715.90,727.3 L716.60,729.4 L716.70,729.7 L717.50,731.8 L718.30,731.5 L719.10,732.2 L719.90,733.8 L720.70,734.7 L720.90,734.7 L721.50,733.4 L722.30,732.1 L723.10,732.8 L723.90,730.6 L724.10,730.5 L724.70,731.5 L725.50,731.3 L726.30,730.8 L727.10,730.6 L727.30,729.4 L727.90,727.0 L728.70,723.9 L729.50,721.3 L730.30,720.1 L731.10,715.1 L731.60,714.0 L731.90,713.7 L732.70,716.0 L733.50,717.2 L733.70,716.6 L734.30,720.5 L735.10,723.4 L735.90,727.6 L736.70,730.9 L736.90,731.5 L737.50,731.1 L738.30,731.1 L739.10,731.3 L739.90,730.9 L740.70,732.0 L741.20,730.5 L741.50,729.7 L742.30,727.8 L743.10,726.1 L743.90,724.1 L744.70,723.4 L745.50,726.6 L746.30,729.2 L747.10,731.8 L747.50,733.3 L747.90,733.6 L748.70,732.7 L749.50,732.0 L750.30,730.5 L751.10,729.8 L751.70,729.4 L751.90,729.3 L752.70,729.1 L753.50,729.4 L754.30,729.8 L755.10,729.9 L755.90,730.1 L756.70,730.1 L757.50,731.2 L758.30,730.6 L759.10,730.3 L759.90,731.0 L760.30,731.1 L760.70,730.4 L761.50,731.2 L762.30,730.5 L763.10,729.6 L763.90,731.5 L764.70,732.4 L765.50,731.2 L765.60,732.0 L766.30,731.9 L767.10,730.4 L767.90,730.5 L768.70,730.1 L769.50,730.4 L769.90,730.5 L770.30,732.0 L771.10,734.1 L771.90,736.8 L772.00,736.9 L772.70,739.1 L773.50,744.0 L774.30,747.4 L774.60,749.7 L775.10,749.8 L775.90,750.9 L776.70,751.9 L777.40,752.9 L777.50,753.6 L778.30,754.3 L779.10,756.3 L779.50,757.2 L779.90,757.9 L780.70,757.7 L781.50,758.4 L782.30,758.8 L782.70,759.3 L783.10,758.2 L783.90,755.9 L784.70,754.5 L784.80,752.9 L785.50,752.9 L786.30,753.3 L787.10,754.1 L787.90,756.3 L788.00,756.1 L788.70,756.4 L789.50,753.7 L790.30,753.1 L790.80,753.3 L791.10,754.2 L791.90,754.8 L792.70,755.4 L793.50,755.5 L794.30,756.0 L794.40,756.1 L795.10,756.7 L795.90,756.5 L796.70,756.8 L797.50,757.7 L798.30,756.6 L799.10,756.7 L799.90,757.6 L800.70,757.5 L800.80,757.6 L801.50,758.4 L802.30,757.3 L803.10,756.3 L803.90,756.7 L804.70,757.2 L805.10,755.5 L805.50,754.7 L806.30,754.4 L807.10,753.3 L807.90,754.0 L808.30,752.5 L808.70,752.9 L809.50,754.2 L810.30,754.5 L810.40,755.0 L811.10,754.8 L811.90,756.0 L812.70,753.5 L813.50,754.3 L814.30,754.9 L814.70,754.0 L815.10,755.1 L815.90,754.2 L816.70,753.7 L817.50,753.3 L818.30,752.7 L819.10,753.8 L819.90,752.3 L820.70,752.4 L821.10,752.5 L821.50,750.1 L822.30,745.4 L822.80,744.4 L823.10,744.1 L823.90,743.4 L824.70,743.0 L825.40,741.8 L825.50,741.5 L826.30,742.0 L827.10,742.4 L827.90,741.7 L828.60,742.2 L828.70,741.3 L829.50,741.6 L830.30,740.9 L831.10,739.0 L831.40,739.0 L831.90,741.2 L832.20,741.8 L832.70,740.2 L833.50,737.9 L834.30,736.5 L835.00,733.7 L835.10,733.9 L835.90,725.0 L836.50,719.8 L836.70,719.3 L837.50,717.7 L838.30,715.7 L838.60,715.5 L839.10,716.4 L839.90,718.9 L840.30,718.7 L840.70,717.7 L841.50,714.9 L842.30,711.8 L842.90,710.2 L843.10,711.8 L843.90,715.4 L844.70,719.6 L845.00,719.8 L845.50,719.9 L846.30,718.9 L847.10,719.8 L847.20,719.8 L847.90,716.6 L848.70,711.2 L849.30,708.1 L849.50,706.3 L850.30,702.6 L851.00,699.5 L851.10,698.8 L851.90,688.3 L852.50,680.3 L852.70,677.2 L853.50,673.1 L853.60,672.8 L854.30,683.7 L854.80,693.1 L855.10,690.8 L855.90,685.2 L856.70,678.8 L857.00,677.1 L857.50,678.9 L858.30,681.7 L859.10,686.7 L859.90,696.1 L860.60,703.8 L860.70,703.1 L861.50,699.4 L862.10,695.3 L862.30,697.2 L863.10,700.3 L863.80,703.8 L863.90,702.5 L864.70,698.5 L865.50,693.7 L865.90,693.1 L866.30,691.0 L867.10,687.1 L867.90,683.4 L868.10,681.4 L868.70,682.5 L869.50,685.9 L870.20,687.8 L870.30,689.5 L871.10,693.1 L871.90,695.7 L872.30,696.3 L872.70,694.3 L873.40,692.1 L873.50,692.1 L874.30,696.4 L875.10,700.2 L875.90,704.0 L876.00,703.8 L876.70,700.8 L877.50,697.8 L878.30,695.4 L878.70,694.2 L879.10,695.7 L879.90,695.9 L880.70,695.9 L881.50,696.6 L881.90,696.3 L882.30,697.7 L883.10,698.3 L883.90,697.4 L884.10,698.5 L884.70,703.1 L885.50,708.2 L886.20,713.4 L886.30,713.8 L887.10,714.8 L887.90,715.0 L888.30,716.6 L888.70,716.4 L889.50,715.3 L890.30,713.4 L891.10,713.4 L891.90,714.8 L892.70,715.6 L893.50,716.6 L893.70,716.6 L894.30,717.7 L895.10,720.3 L895.80,721.9 L895.90,721.0 L896.70,714.7 L897.50,704.9 L898.30,704.9 L899.10,703.5 L899.90,704.1 L900.10,704.2 L900.70,705.0 L901.50,706.6 L902.30,707.0 L903.10,709.9 L903.30,710.2 L903.90,712.3 L904.70,715.3 L905.40,716.6 L905.50,717.6 L906.30,720.8 L907.10,724.0 L907.60,726.2 L907.90,724.9 L908.70,723.8 L909.50,721.6 L909.70,720.4 L910.30,721.3 L911.10,721.4 L911.90,721.6 L912.70,723.7 L912.90,723.4 L913.50,725.2 L914.30,726.6 L915.10,728.7 L915.50,729.0 L915.90,728.7 L916.70,726.2 L917.50,724.1 L918.20,721.9 L918.30,722.7 L919.10,723.2 L919.90,725.1 L920.70,726.7 L921.00,726.2 L921.50,724.6 L922.30,721.2 L923.10,718.2 L923.60,716.6 L923.90,715.7 L924.70,713.3 L925.50,711.6 L926.10,710.2 L926.30,710.7 L927.10,712.1 L927.90,711.9 L928.30,713.4 L928.70,712.3 L929.50,709.6 L930.30,707.5 L931.00,705.9 L931.10,706.4 L931.90,705.4 L932.70,705.2 L933.20,704.9 L933.50,703.9 L934.30,701.5 L935.10,698.8 L935.30,698.5 L935.90,699.2 L936.70,698.0 L937.40,696.3 L937.50,697.5 L938.30,698.5 L939.10,700.4 L939.60,701.7 L939.90,702.8 L940.70,705.4 L941.50,707.7 L941.70,708.1 L942.30,708.0 L943.10,707.8 L943.90,708.6 L944.50,708.1 L944.70,709.0 L945.50,713.0 L946.30,716.7 L946.60,718.7 L947.10,726.0 L947.90,740.1 L948.10,743.3 L948.70,740.5 L949.50,737.7 L950.20,733.7 L950.30,733.8 L951.10,732.3 L951.90,730.1 L952.40,729.4 L952.70,731.5 L953.40,734.7 L953.50,734.6 L954.30,732.5 L955.10,729.4 L955.90,725.5 L956.60,724.1 L956.70,724.5 L957.50,725.0 L958.30,725.1 L959.10,725.3 L959.90,727.3 L960.70,728.1 L961.50,726.8 L962.00,727.3 L962.30,725.8 L963.10,721.4 L963.90,717.4 L964.10,716.6 L964.70,712.7 L965.50,708.8 L965.80,707.0 L966.30,705.9 L967.10,702.9 L967.90,701.5 L968.00,700.6 L968.70,706.0 L969.50,711.3 L970.30,707.9 L971.10,704.5 L971.60,701.7 L971.90,703.0 L972.70,705.9 L973.50,708.1 L973.70,709.1 L974.30,707.4 L975.10,704.6 L975.90,700.7 L976.50,698.5 L976.70,698.7 L977.50,700.4 L978.30,701.7 L979.10,703.8 L979.90,702.6 L980.00,701.7 L980.70,703.2 L981.50,703.6 L982.30,703.5 L983.10,704.3 L983.20,704.9 L983.90,705.5 L984.70,706.0 L985.50,705.8 L986.30,706.5 L986.40,705.9 L987.10,705.8 L987.90,706.8 L988.70,706.3 L989.50,706.6 L990.30,704.9 L990.70,705.9 L991.10,705.3 L991.90,706.8 L992.70,707.6 L993.50,706.7 L993.90,707.0 L994.30,704.3 L995.10,700.3 L995.40,699.5 L995.90,695.6 L996.70,691.0 L997.10,686.7 L997.50,685.8 L998.30,685.2 L999.10,684.0 L999.90,683.6 L1000.30,682.5 L1000.70,682.8 L1001.50,684.4 L1002.30,685.1 L1002.40,684.6 L1003.10,683.0 L1003.90,681.4 L1004.50,679.3 L1004.70,679.3 L1005.50,683.1 L1006.30,684.7 L1006.70,685.7 L1007.10,685.4 L1007.90,682.8 L1008.70,682.5 L1008.80,682.5 L1009.50,686.2 L1010.30,690.3 L1010.90,695.3 L1011.10,695.9 L1011.90,696.2 L1012.70,696.2 L1013.10,697.4 L1013.50,696.5 L1014.30,696.4 L1015.10,693.9 L1015.90,691.7 L1016.30,692.1 L1016.70,691.8 L1017.50,692.1 L1018.30,692.2 L1018.80,691.0 L1019.10,691.3 L1019.90,691.8 L1020.70,693.5 L1021.50,694.1 L1021.60,694.2 L1022.30,692.9 L1023.10,692.2 L1023.90,690.3 L1024.70,689.5 L1024.80,688.9 L1025.50,687.4 L1026.30,686.0 L1027.10,684.3 L1027.40,683.5 L1027.90,681.1 L1028.70,675.8 L1029.50,669.6 L1030.30,668.4 L1031.10,665.6 L1031.90,665.8 L1032.30,664.3 L1032.70,661.1 L1033.50,653.1 L1033.80,650.4 L1034.30,650.1 L1035.10,647.0 L1035.90,643.1 L1036.60,641.9 L1036.70,640.1 L1037.50,633.3 L1038.30,625.3 L1038.70,622.7 L1039.10,623.4 L1039.90,621.7 L1040.20,619.5 L1040.70,622.4 L1041.50,630.1 L1041.90,634.4 L1042.30,625.0 L1043.00,613.1 L1043.10,611.5 L1043.90,615.4 L1044.70,617.5 L1045.10,617.4 L1045.50,619.1 L1046.30,625.0 L1046.60,627.0 L1047.10,618.9 L1047.90,610.2 L1048.30,607.7 L1048.70,584.9 L1049.50,578.4 L1050.00,575.3 L1050.30,574.6 L1051.10,576.2 L1051.50,578.5 L1051.90,570.0 L1052.70,558.6 L1053.00,550.8 L1053.50,542.6 L1054.30,528.4 L1054.70,520.9 L1055.10,510.0 L1055.80,482.5 L1055.90,476.9 L1056.70,429.5 L1056.80,423.8 L1057.50,446.3 L1058.30,476.2 L1058.50,484.6 L1059.10,453.0 L1059.40,435.5 L1059.90,456.1 L1060.70,499.5 L1061.50,481.0 L1062.20,461.1 L1062.30,461.6 L1063.10,495.9 L1063.70,516.6 L1063.90,512.7 L1064.70,498.9 L1065.40,491.0 L1065.50,486.6 L1066.30,462.0 L1067.10,436.8 L1067.50,422.7 L1067.90,409.4 L1068.20,400.1 L1068.60,372.1 L1068.70,370.4 L1069.50,359.1 L1069.60,357.2 L1070.30,363.2 L1070.70,367.8 L1071.10,344.4 L1071.80,308.1 L1071.90,307.2 L1072.70,274.7 L1072.80,271.8 L1073.50,309.5 L1073.90,329.4 L1074.30,351.7 L1075.00,386.0 L1075.10,384.8 L1075.90,365.8 L1076.50,350.8 L1076.70,342.5 L1077.50,314.4 L1078.20,286.7 L1078.30,282.4 L1079.10,261.8 L1079.90,239.8 L1080.70,262.7 L1081.40,286.7 L1081.50,285.9 L1082.30,264.2 L1082.50,261.1 L1083.10,282.9 L1083.90,320.9 L1084.20,327.3 L1084.70,302.1 L1085.50,268.5 L1085.70,265.4 L1086.30,264.0 L1087.10,261.0 L1087.80,261.1 L1087.90,263.3 L1088.70,277.2 L1089.30,286.7 L1089.50,276.4 L1090.30,249.8 L1091.00,219.5 L1091.10,224.3 L1091.90,241.4 L1092.70,256.8 L1093.50,273.2 L1094.20,286.7 L1094.30,286.7 L1095.10,323.6 L1095.70,350.8 L1095.90,337.9 L1096.70,300.1 L1097.40,271.8 L1097.50,276.4 L1098.30,290.1 L1099.10,312.3 L1099.90,285.6 L1100.60,262.2 L1100.70,263.5 L1101.50,276.3 L1102.10,286.7 L1102.30,296.0 L1103.10,332.4 L1103.40,346.5 L1103.90,382.3 L1104.20,405.6 L1104.70,414.2 L1105.50,423.0 L1105.90,431.2 L1106.30,438.7 L1107.10,464.8 L1107.60,476.1 L1107.90,466.7 L1108.70,436.6 L1109.50,457.8 L1110.30,482.2 L1110.60,488.9 L1111.10,477.8 L1111.90,457.9 L1112.30,450.4 L1112.70,439.4 L1113.50,425.5 L1113.60,424.8 L1114.30,447.4 L1114.90,465.4 L1115.10,468.8 L1115.90,490.2 L1116.60,504.9 L1116.70,503.8 L1117.50,487.0 L1118.30,474.6 L1118.70,466.4 L1119.10,464.6 L1119.90,469.0 L1120.70,474.0 L1120.90,469.6 L1121.50,480.4 L1122.30,492.9 L1122.60,491.0 L1123.10,485.5 L1123.90,488.6 L1124.70,484.6 L1125.50,502.1 L1126.30,515.3 L1126.60,520.9 L1127.10,508.9 L1127.90,494.6 L1128.30,482.5 L1128.70,468.3 L1129.40,444.0 L1129.50,443.5 L1130.30,421.4 L1130.50,414.2 L1131.10,424.6 L1131.90,440.0 L1132.00,444.0 L1132.70,425.2 L1133.30,412.0 L1133.50,404.9 L1134.10,400.1 L1134.30,388.4 L1134.70,372.1 L1135.10,369.3 L1135.90,369.5 L1136.70,366.0 L1136.90,361.4 L1137.50,354.3 L1138.30,349.0 L1139.00,345.4 L1139.10,345.1 L1139.90,359.6 L1140.50,367.8 L1140.70,363.0 L1141.50,354.2 L1142.20,346.5 L1142.30,342.9 L1143.10,328.4 L1143.90,316.6 L1144.70,334.7 L1145.40,355.0 L1145.50,356.3 L1146.30,363.2 L1147.10,384.7 L1147.60,393.4 L1147.90,392.5 L1148.70,396.8 L1149.50,393.6 L1150.30,398.9 L1150.80,406.3 L1151.10,414.3 L1151.90,421.8 L1152.50,420.6 L1152.70,408.5 L1153.30,372.1 L1153.50,355.3 L1154.20,308.1 L1154.30,305.4 L1155.10,293.6 L1155.90,276.9 L1156.10,276.1 L1156.70,264.5 L1157.50,251.6 L1158.20,235.5 L1158.30,232.7 L1159.10,218.8 L1159.90,196.0 L1160.70,210.7 L1161.40,222.7 L1161.50,225.4 L1162.30,255.0 L1162.50,263.2 L1163.10,250.4 L1163.90,227.4 L1164.00,222.7 L1164.70,227.2 L1165.50,237.5 L1165.70,239.8 L1166.30,223.2 L1167.10,190.6 L1167.40,183.2 L1167.90,193.7 L1168.70,217.3 L1168.90,222.7 L1169.50,209.5 L1170.00,200.3 L1170.30,217.0 L1171.00,248.3 L1171.10,252.1 L1171.90,250.8 L1172.70,258.8 L1173.20,261.1 L1173.50,267.2 L1174.30,297.9 L1174.70,308.1 L1175.10,295.4 L1175.90,282.5 L1176.70,320.9 L1177.40,346.5 L1177.50,349.1 L1178.30,341.2 L1178.50,335.8 L1179.10,347.2 L1179.90,364.3 L1180.60,373.2 L1180.70,372.0 L1181.50,359.1 L1182.30,348.6 L1183.10,341.6 L1183.90,335.1 L1184.30,333.7 L1184.70,340.3 L1185.50,362.2 L1186.00,374.2 L1186.30,370.9 L1187.10,362.1 L1187.50,361.4 L1187.90,375.2 L1188.70,403.4 L1189.20,416.3 L1189.50,412.1 L1190.30,406.1 L1191.10,400.8 L1191.30,394.9 L1191.90,401.6 L1192.70,408.3 L1193.40,418.4 L1193.50,425.5 L1194.30,466.2 L1194.50,473.9 L1195.10,458.7 L1195.90,447.4 L1196.00,444.0 L1196.70,451.2 L1197.50,451.7 L1197.70,459.0 L1198.30,443.8 L1199.10,431.7 L1199.90,412.0 L1200.70,403.1 L1201.30,390.7 L1201.50,395.3 L1202.30,390.0 L1203.10,389.6 L1203.90,414.9 L1204.70,438.4 L1205.20,456.8 L1205.50,449.4 L1206.30,431.5 L1206.70,422.7 L1207.10,411.4 L1207.90,393.1 L1208.00,390.7 L1208.70,410.5 L1209.50,426.4 L1210.10,448.3 L1210.30,444.3 L1211.10,435.5 L1211.90,418.9 L1212.20,414.2 L1212.70,424.2 L1213.50,444.1 L1213.70,448.3 L1214.30,431.2 L1214.80,418.4 L1215.10,416.0 L1215.90,409.5 L1216.50,401.3 L1216.70,383.4 L1216.90,372.1 L1217.50,372.4 L1218.30,367.9 L1218.40,363.6 L1219.10,368.8 L1219.90,368.7 L1220.10,372.1 L1220.70,380.0 L1221.50,389.9 L1221.60,393.4 L1222.30,397.0 L1223.10,409.6 L1223.90,415.0 L1224.40,418.4 L1224.70,418.4 L1225.50,416.4 L1226.30,418.5 L1226.50,418.4 L1227.10,422.2 L1227.60,431.2 L1227.90,431.3 L1228.70,434.0 L1229.50,432.2 L1230.30,433.9 L1230.80,432.3 L1231.10,437.1 L1231.90,461.1 L1232.70,499.1 L1232.90,508.1 L1233.50,517.6 L1234.00,529.4 L1234.20,528.3 L1234.30,533.3 L1235.10,521.7 L1235.90,514.9 L1236.30,509.1 L1236.70,515.1 L1237.50,521.6 L1238.30,528.7 L1238.40,530.4 L1239.10,524.9 L1239.90,511.1 L1240.60,504.8 L1240.70,504.4 L1241.50,510.2 L1242.30,508.6 L1242.70,509.1 L1243.10,518.6 L1243.90,536.3 L1244.40,545.4 L1244.70,555.0 L1245.50,580.0 L1245.90,588.1 L1246.30,597.0 L1247.10,611.6 L1247.40,616.9 L1247.90,611.4 L1248.70,606.0 L1249.50,596.6 L1250.30,604.5 L1251.10,614.1 L1251.20,613.7 L1251.90,609.7 L1252.70,602.7 L1253.40,596.6 L1253.50,596.6 L1254.30,605.4 L1255.10,613.7 L1255.90,602.5 L1256.60,594.5 L1256.70,594.0 L1257.50,589.4 L1258.30,585.8 L1258.70,581.7 L1259.10,586.3 L1259.80,596.6 L1259.90,595.1 L1260.70,588.3 L1261.50,579.5 L1261.90,576.3 L1262.30,578.1 L1263.10,580.1 L1263.90,586.2 L1264.00,585.9 L1264.70,580.2 L1265.50,578.0 L1266.20,575.3 L1266.30,576.7 L1267.10,575.7 L1267.90,571.0 L1268.70,574.4 L1269.40,581.7 L1269.50,584.5 L1270.30,592.9 L1270.90,598.7 L1271.10,597.1 L1271.90,599.5 L1272.60,594.5 L1272.70,593.2 L1273.50,604.4 L1274.30,611.5 L1275.10,610.3 L1275.80,607.3 L1275.90,610.5 L1276.70,616.6 L1277.30,619.0 L1277.50,615.3 L1278.30,592.7 L1278.50,589.1 L1279.10,600.1 L1279.90,611.7 L1280.00,613.7 L1280.70,615.8 L1281.50,618.6 L1282.20,622.2 L1282.30,621.8 L1283.10,617.6 L1283.90,614.2 L1284.30,613.7 L1284.70,611.4 L1285.50,610.0 L1286.30,606.3 L1286.40,607.3 L1287.10,612.8 L1287.90,615.1 L1288.60,616.9 L1288.70,617.8 L1289.50,615.6 L1290.30,615.9 L1291.10,616.2 L1291.90,616.6 L1292.70,615.2 L1292.80,615.8 L1293.50,610.9 L1294.30,607.0 L1295.00,603.0 L1295.10,601.3 L1295.90,602.7 L1296.70,600.7 L1297.50,599.4 L1297.80,598.7 L1298.30,605.2 L1299.10,620.5 L1299.30,626.5 L1299.90,639.5 L1300.30,646.8 L1300.70,645.6 L1301.50,640.6 L1302.30,636.9 L1302.50,637.2 L1303.10,640.6 L1303.90,641.3 L1304.60,645.7 L1304.70,645.6 L1305.50,641.8 L1306.30,638.0 L1306.70,636.1 L1307.10,636.8 L1307.90,635.7 L1308.70,637.6 L1308.90,637.2 L1309.50,635.3 L1310.30,635.5 L1311.10,635.2 L1311.90,632.5 L1312.10,629.7 L1312.70,631.2 L1313.50,633.7 L1314.20,637.2 L1314.30,638.1 L1315.10,637.2 L1315.90,641.2 L1316.30,640.4 L1316.70,641.8 L1317.50,640.6 L1318.30,637.2 L1319.10,637.7 L1319.90,638.2 L1320.60,638.2 L1320.70,639.2 L1321.50,632.0 L1322.10,628.6 L1322.30,625.2 L1323.10,612.2 L1323.80,600.9 L1323.90,598.7 L1324.70,595.1 L1325.50,597.1 L1325.90,596.6 L1326.30,593.3 L1327.10,584.6 L1327.60,581.7 L1327.90,579.4 L1328.70,577.2 L1329.50,577.2 L1329.80,576.3 L1330.30,578.9 L1331.10,580.4 L1331.90,582.7 L1332.70,590.9 L1333.40,594.5 L1333.50,592.6 L1334.30,579.9 L1334.90,573.1 L1335.10,573.0 L1335.90,568.6 L1336.60,567.8 L1336.70,565.7 L1337.50,571.0 L1338.30,577.3 L1338.70,579.5 L1339.10,577.6 L1339.90,580.1 L1340.70,584.4 L1340.90,582.7 L1341.50,584.7 L1342.30,587.2 L1342.60,588.1 L1343.10,594.8 L1343.90,603.4 L1344.10,607.3 L1344.70,587.8 L1345.10,579.5 L1345.50,567.8 L1346.30,552.5 L1346.90,536.8 L1347.10,539.0 L1347.90,537.7 L1348.70,537.7 L1349.40,534.7 L1349.50,537.4 L1350.30,543.8 L1350.50,544.3 L1351.10,539.0 L1351.90,533.8 L1352.00,534.7 L1352.70,535.3 L1353.50,534.7 L1354.30,531.7 L1354.70,532.6 L1355.10,528.2 L1355.90,525.3 L1356.70,518.1 L1356.90,516.6 L1357.50,522.8 L1358.30,533.8 L1359.00,543.2 L1359.10,541.8 L1359.90,535.5 L1360.70,533.1 L1361.20,526.2 L1361.50,524.3 L1362.30,527.4 L1363.10,523.1 L1363.30,525.1 L1363.90,524.4 L1364.70,531.6 L1365.40,539.0 L1365.50,538.5 L1366.30,540.6 L1367.10,544.5 L1367.60,546.4 L1367.90,545.3 L1368.70,543.9 L1369.50,547.4 L1369.70,544.3 L1370.30,543.7 L1371.10,538.2 L1371.80,537.9 L1371.90,538.0 L1372.70,547.0 L1373.30,551.8 L1373.50,550.9 L1374.30,548.8 L1375.00,546.4 L1375.10,547.1 L1375.90,550.9 L1376.70,557.1 L1377.50,562.5 L1378.20,563.5 L1378.30,561.9 L1379.10,554.4 L1379.90,543.9 L1380.40,541.1 L1380.70,534.1 L1381.50,521.3 L1381.90,515.5 L1382.30,517.5 L1383.10,513.2 L1383.90,511.4 L1384.00,512.3 L1384.70,515.0 L1385.50,515.6 L1385.70,517.6 L1386.30,515.7 L1387.10,511.0 L1387.90,508.8 L1388.30,508.0 L1388.70,511.6 L1389.50,516.6 L1390.00,517.6 L1390.30,518.1 L1391.10,520.3 L1391.90,519.4 L1392.70,522.6 L1393.20,520.8 L1393.50,521.3 L1394.30,527.0 L1394.70,526.2 L1395.10,523.5 L1395.90,523.1 L1396.70,523.7 L1397.50,521.1 L1398.10,523.0 L1398.30,519.2 L1399.10,524.5 L1399.90,525.2 L1400.60,528.3 L1400.70,532.9 L1401.50,547.7 L1401.70,553.9 L1402.30,554.5 L1403.10,555.9 L1403.80,553.9 L1403.90,554.9 L1404.70,549.4 L1405.50,541.1 L1406.30,544.5 L1407.10,550.0 L1407.90,556.1 L1408.10,557.1 L1408.70,562.5 L1409.50,564.0 L1410.20,562.5 L1410.30,561.6 L1411.10,559.5 L1411.90,555.5 L1412.40,553.9 L1412.70,552.6 L1413.50,552.5 L1414.10,549.6 L1414.30,550.4 L1415.10,550.9 L1415.90,552.2 L1416.00,552.8 L1416.70,550.6 L1417.50,544.5 L1418.10,540.0 L1418.30,540.2 L1419.10,541.6 L1419.90,537.3 L1420.70,537.9 L1420.90,539.0 L1421.50,541.7 L1422.30,547.5 L1422.40,548.6 L1423.10,542.3 L1423.90,535.0 L1424.10,534.7 L1424.70,522.8 L1425.50,506.2 L1425.80,502.7 L1426.30,495.4 L1427.10,481.3 L1427.30,481.3 L1427.90,481.7 L1428.70,475.9 L1429.50,472.8 L1430.30,472.9 L1431.10,468.0 L1431.60,468.5 L1431.90,474.5 L1432.70,466.0 L1433.50,470.8 L1434.30,464.3 L1434.80,464.3 L1435.10,459.5 L1435.90,462.1 L1436.70,457.7 L1437.20,455.0 L1437.50,451.5 L1438.30,448.6 L1439.10,446.5 L1439.30,448.6 L1439.90,435.5 L1440.70,412.6 L1440.80,416.6 L1441.50,402.4 L1441.90,393.1 L1442.30,403.8 L1443.10,409.1 L1443.60,420.9 L1443.90,418.5 L1444.70,413.7 L1445.50,402.6 L1445.70,403.8 L1446.30,400.3 L1447.10,398.4 L1447.90,395.3 L1448.70,404.4 L1449.40,412.3 L1449.50,412.9 L1450.30,395.4 L1451.10,391.6 L1451.50,386.7 L1451.90,381.7 L1452.70,377.9 L1453.50,373.9 L1453.60,368.6 L1454.30,380.5 L1455.10,397.2 L1455.80,405.9 L1455.90,405.8 L1456.70,409.2 L1457.50,411.9 L1457.90,416.6 L1458.30,426.6 L1459.10,433.6 L1459.40,435.8 L1459.90,426.3 L1460.70,413.3 L1461.10,402.7 L1461.50,401.6 L1462.30,405.1 L1463.10,410.3 L1463.70,408.1 L1463.90,407.3 L1464.70,389.7 L1465.40,376.1 L1465.50,374.9 L1466.30,352.0 L1467.10,327.0 L1467.90,326.5 L1468.70,322.0 L1469.20,320.6 L1469.50,320.5 L1470.20,320.0 L1470.30,317.9 L1471.10,276.2 L1471.20,268.5 L1471.60,229.7 L1471.90,213.5 L1472.70,194.5 L1473.10,178.2 L1473.50,193.2 L1473.90,205.4 L1474.30,182.1 L1474.50,174.3 L1475.10,199.8 L1475.20,203.4 L1475.80,156.9 L1475.90,157.3 L1476.70,187.9 L1477.50,134.1 L1478.30,176.2 L1478.40,180.1 L1478.90,153.9 L1479.10,180.8 L1479.40,233.6 L1479.90,211.3 L1480.70,168.5 L1481.30,203.4 L1481.50,194.0 L1482.10,163.6 L1482.30,172.9 L1482.90,202.4 L1483.10,195.9 L1483.80,150.6 L1483.90,157.6 L1484.50,200.5 L1484.70,193.2 L1485.20,160.7 L1485.50,178.1 L1486.00,197.6 L1486.30,175.7 L1486.70,146.7 L1487.10,169.5 L1487.70,195.7 L1487.90,185.6 L1488.60,158.8 L1488.70,163.8 L1489.50,206.8 L1490.10,240.4 L1490.30,233.7 L1491.10,215.8 L1491.20,207.3 L1491.90,192.8 L1492.00,189.4 L1492.70,208.8 L1493.50,229.7 L1494.30,252.6 L1494.90,267.5 L1495.10,263.0 L1495.90,230.1 L1496.40,215.1 L1496.70,220.3 L1497.50,231.3 L1497.80,239.4 L1498.30,242.5 L1498.80,246.2 L1499.10,229.7 L1499.80,187.9 L1499.90,188.7 L1500.70,163.6 L1501.40,182.1 L1501.50,178.9 L1502.20,148.6 L1502.30,150.1 L1503.10,174.1 L1503.20,178.2 L1503.90,176.0 L1504.10,183.0 L1504.70,170.5 L1504.80,168.5 L1505.50,164.9 L1505.60,166.6 L1506.30,184.5 L1506.60,184.0 L1507.10,167.3 L1507.20,163.6 L1507.90,150.2 L1508.00,151.0 L1508.70,170.7 L1509.00,178.2 L1509.50,169.6 L1509.70,160.7 L1510.30,166.4 L1510.40,166.6 L1511.10,187.9 L1511.90,191.8 L1512.70,215.8 L1513.20,231.6 L1513.50,236.4 L1514.30,249.1 L1515.10,236.7 L1515.80,224.8 L1515.90,227.6 L1516.70,240.8 L1517.20,252.0 L1517.50,253.9 L1518.30,272.1 L1519.10,286.1 L1519.20,288.9 L1519.90,271.7 L1520.60,249.1 L1520.70,243.3 L1521.50,223.8 L1522.10,205.4 L1522.30,201.7 L1523.00,187.9 L1523.10,186.3 L1523.90,183.4 L1524.00,178.2 L1524.70,196.0 L1524.80,197.6 L1525.50,180.1 L1526.20,193.7 L1526.30,190.6 L1526.90,177.2 L1527.10,179.9 L1527.90,189.1 L1528.40,197.6 L1528.70,222.8 L1529.10,258.8 L1529.50,285.6 L1529.80,306.3 L1530.30,289.9 L1531.10,255.5 L1531.30,249.1 L1531.90,235.4 L1532.30,234.5 L1532.70,240.2 L1533.50,258.3 L1534.20,273.3 L1534.30,271.6 L1535.10,252.7 L1535.70,239.4 L1535.90,234.4 L1536.70,218.4 L1537.10,213.1 L1537.50,224.6 L1538.30,238.8 L1538.40,244.2 L1539.10,255.4 L1539.50,258.8 L1539.90,254.6 L1540.70,249.1 L1541.50,284.9 L1542.00,306.3 L1542.30,297.9 L1543.10,265.6 L1543.40,258.8 L1543.90,259.0 L1544.40,249.1 L1544.70,247.7 L1545.50,239.7 L1545.80,244.2 L1546.30,232.8 L1547.10,222.7 L1547.30,220.0 L1547.90,216.6 L1548.30,207.3 L1548.70,202.7 L1549.20,197.6 L1549.50,204.5 L1550.30,219.4 L1550.70,223.9"/>
</g>
<g class="red"><line x1="92.5" x2="92.5" y1="432.3" y2="907"/><line x1="620.5" x2="620.5" y1="422" y2="897.5"/><line x1="1018.8" x2="1018.8" y1="389.5" y2="864.5"/><line x1="1149.3" x2="1149.3" y1="239" y2="713.2"/><line x1="1413.5" x2="1413.5" y1="289" y2="763.5"/><text x="25.7" y="933.8" textLength="159" lengthAdjust="spacingAndGlyphs">October 2013</text><text x="552.8" y="920" textLength="157.5" lengthAdjust="spacingAndGlyphs">October 2017</text><text x="957" y="889.2" textLength="163" lengthAdjust="spacingAndGlyphs">October 2020</text><text x="1086.2" y="735.8" textLength="159" lengthAdjust="spacingAndGlyphs">October 2021</text><text x="1342.7" y="785.8" textLength="163" lengthAdjust="spacingAndGlyphs">October 2023</text></g>
<g class="axis"><text x="89.2" y="1007" textLength="74.3" lengthAdjust="spacingAndGlyphs">Jan '14</text><text x="262.8" y="1007" textLength="80.4" lengthAdjust="spacingAndGlyphs">May '15</text><text x="440.7" y="1007" textLength="77.6" lengthAdjust="spacingAndGlyphs">Sep '16</text><text x="619.0" y="1007" textLength="74.1" lengthAdjust="spacingAndGlyphs">Jan '18</text><text x="792.3" y="1007" textLength="80.6" lengthAdjust="spacingAndGlyphs">May '19</text><text x="968.6" y="1007" textLength="81.2" lengthAdjust="spacingAndGlyphs">Sep '20</text><text x="1146.5" y="1007" textLength="78.6" lengthAdjust="spacingAndGlyphs">Jan '22</text><text x="1319.3" y="1007" textLength="86.0" lengthAdjust="spacingAndGlyphs">May '23</text><text x="1497.6" y="1007" textLength="82.5" lengthAdjust="spacingAndGlyphs">Sep '24</text><text class="yl" x="1581.8" y="71.9">$80K</text><text class="yl" x="1581.8" y="251.9">$60K</text><text class="yl" x="1581.8" y="429.8">$40K</text><text class="yl" x="1581.8" y="609.8">$20K</text><text class="yl" x="1581.8" y="788.1">$0</text></g>
</svg>
</body>
</html>
